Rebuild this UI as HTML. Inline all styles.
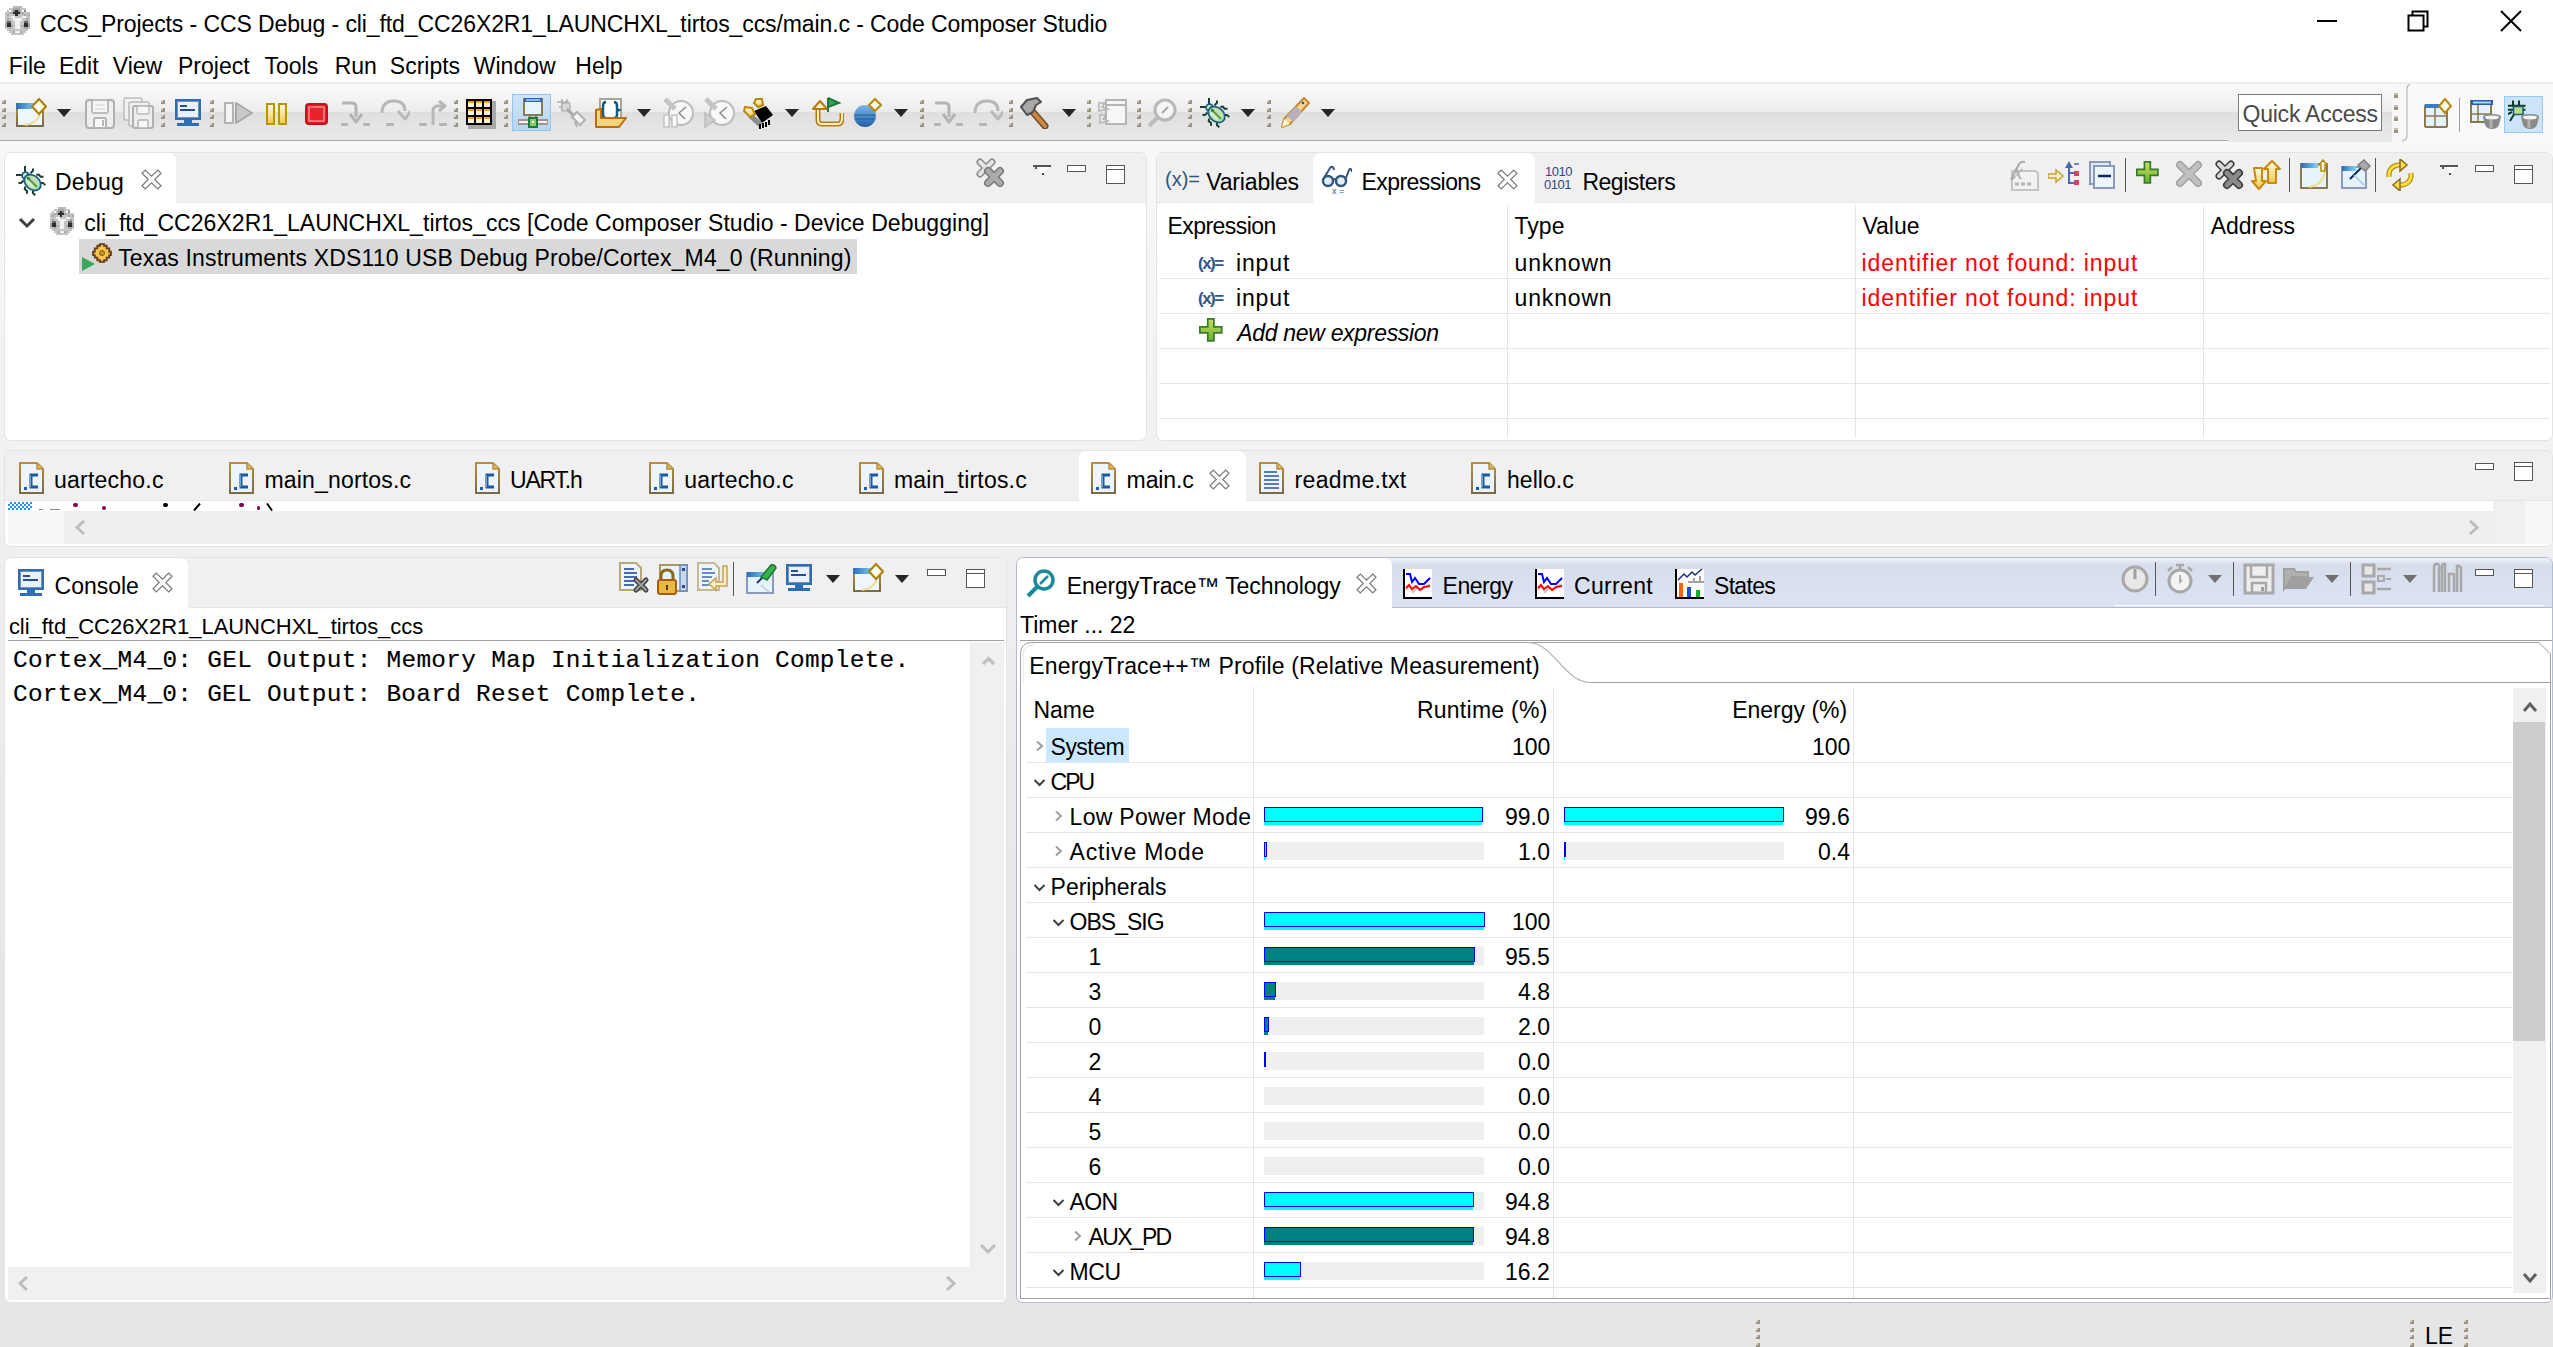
<!DOCTYPE html>
<html><head><meta charset="utf-8"><title>Code Composer Studio</title>
<style>
html,body{margin:0;padding:0;}
body{width:2553px;height:1347px;overflow:hidden;position:relative;background:linear-gradient(#f8f8f8 141px,#e6e6e6 1000px,#e6e6e6);font-family:'Liberation Sans',sans-serif;}
body div, body svg{position:absolute;}
.t{white-space:pre;}
</style></head><body>
<svg style="left:0;top:0" width="0" height="0"><defs>
<linearGradient id="gy" x1="0" y1="0" x2="0" y2="1"><stop offset="0" stop-color="#fffbe6"/><stop offset="1" stop-color="#f2c94c"/></linearGradient>
<linearGradient id="gbl" x1="0" y1="0" x2="0" y2="1"><stop offset="0" stop-color="#7fb6e6"/><stop offset="1" stop-color="#1f5fa8"/></linearGradient>
<linearGradient id="gtb" x1="0" y1="0" x2="1" y2="0"><stop offset="0" stop-color="#2a6fb8"/><stop offset="1" stop-color="#8cd0f5"/></linearGradient>
<linearGradient id="gfr" x1="0" y1="0" x2="0" y2="1"><stop offset="0" stop-color="#b8903c"/><stop offset="1" stop-color="#7a6a48"/></linearGradient>
<linearGradient id="ggr" x1="0" y1="0" x2="0" y2="1"><stop offset="0" stop-color="#c8e060"/><stop offset="1" stop-color="#6ab030"/></linearGradient>
<linearGradient id="gbug" x1="0" y1="0" x2="1" y2="1"><stop offset="0" stop-color="#d8ecd0"/><stop offset="1" stop-color="#5a9a5a"/></linearGradient>
</defs></svg>
<div style="left:0px;top:0px;width:2553px;height:82px;background:#ffffff;"></div>
<div class="t" style="left:40.00px;top:11px;font-family:'Liberation Sans',sans-serif;font-size:23px;line-height:26px;color:#000;letter-spacing:-0.098px;">CCS_Projects - CCS Debug - cli_ftd_CC26X2R1_LAUNCHXL_tirtos_ccs/main.c - Code Composer Studio</div>
<div class="t" style="left:8.80px;top:53px;font-family:'Liberation Sans',sans-serif;font-size:23px;line-height:26px;color:#000;">File</div>
<div class="t" style="left:58.90px;top:53px;font-family:'Liberation Sans',sans-serif;font-size:23px;line-height:26px;color:#000;">Edit</div>
<div class="t" style="left:112.80px;top:53px;font-family:'Liberation Sans',sans-serif;font-size:23px;line-height:26px;color:#000;">View</div>
<div class="t" style="left:178.00px;top:53px;font-family:'Liberation Sans',sans-serif;font-size:23px;line-height:26px;color:#000;">Project</div>
<div class="t" style="left:264.50px;top:53px;font-family:'Liberation Sans',sans-serif;font-size:23px;line-height:26px;color:#000;">Tools</div>
<div class="t" style="left:334.70px;top:53px;font-family:'Liberation Sans',sans-serif;font-size:23px;line-height:26px;color:#000;">Run</div>
<div class="t" style="left:389.80px;top:53px;font-family:'Liberation Sans',sans-serif;font-size:23px;line-height:26px;color:#000;">Scripts</div>
<div class="t" style="left:473.80px;top:53px;font-family:'Liberation Sans',sans-serif;font-size:23px;line-height:26px;color:#000;">Window</div>
<div class="t" style="left:575.30px;top:53px;font-family:'Liberation Sans',sans-serif;font-size:23px;line-height:26px;color:#000;">Help</div>
<div style="left:2317px;top:20px;width:20px;height:2px;background:#000;"></div>
<svg style="left:2406px;top:9px;" width="24" height="24" viewBox="0 0 24 24"><rect x="2.5" y="6.5" width="15" height="15" fill="none" stroke="#000" stroke-width="2"/><path d="M6.5 6.5V2.5H21.5V17.5H17.5" fill="none" stroke="#000" stroke-width="2"/></svg>
<svg style="left:2499px;top:9px;" width="24" height="24" viewBox="0 0 24 24"><path d="M2 2L22 22M22 2L2 22" stroke="#000" stroke-width="2"/></svg>
<div style="left:0px;top:82px;width:2553px;height:2px;background:#ededed;"></div>
<div style="left:0px;top:84px;width:2392px;height:28px;background:linear-gradient(#fbfbfb,#ececec);"></div>
<div style="left:0px;top:112px;width:2392px;height:28px;background:linear-gradient(#dfdfdf,#e9e9e9);"></div>
<div style="left:0px;top:140px;width:2228px;height:1px;background:#a8a8a8;"></div>
<div style="left:2228px;top:140px;width:164px;height:2px;background:#e9e9e9;"></div>
<div style="left:2392px;top:84px;width:161px;height:57px;background:#f7f7f7;"></div>
<div style="left:2408px;top:84px;width:145px;height:57px;background:#f9f9f9;"></div>
<svg style="left:2400px;top:84px;" width="12" height="58" viewBox="0 0 12 58"><path d="M10 0.5 Q7 1.5 7 5 V52 Q7 56 2 57" fill="none" stroke="#b8b8b8" stroke-width="1.2"/></svg>
<div style="left:2238px;top:94px;width:144px;height:37px;background:#ffffff;box-sizing:border-box;border:1px solid #7a7a7a;"></div>
<div class="t" style="left:2242.50px;top:101px;font-family:'Liberation Sans',sans-serif;font-size:23px;line-height:26px;color:#4a4a4a;letter-spacing:-0.227px;">Quick Access</div>
<div style="left:4px;top:152px;width:1141px;height:287px;border:1px solid #e3e3e3;border-radius:7px;background:#ffffff;overflow:hidden"><div style="left:0;top:0;width:1141px;height:49px;background:#f0f0f0"></div><div style="left:0;top:49px;width:1141px;height:1px;background:#e6e6e6"></div></div>
<div style="left:5px;top:153px;width:171px;height:50px;background:#ffffff;border-radius:7px 7px 0 0"></div>
<div style="left:1156px;top:152px;width:1395px;height:287px;border:1px solid #e3e3e3;border-radius:7px;background:#ffffff;overflow:hidden"><div style="left:0;top:0;width:1395px;height:49px;background:#f0f0f0"></div><div style="left:0;top:49px;width:1395px;height:1px;background:#e6e6e6"></div></div>
<div style="left:1313px;top:153px;width:222px;height:50px;background:#ffffff;border-radius:7px 7px 0 0"></div>
<div style="left:4px;top:450px;width:2547px;height:95px;border:1px solid #e3e3e3;border-radius:7px;background:#ffffff;overflow:hidden"><div style="left:0;top:0;width:2547px;height:49px;background:#f0f0f0"></div><div style="left:0;top:49px;width:2547px;height:1px;background:#e6e6e6"></div></div>
<div style="left:1079px;top:451px;width:167px;height:50px;background:#ffffff;border-radius:7px 7px 0 0"></div>
<div style="left:4px;top:557px;width:1001px;height:744px;border:1px solid #e3e3e3;border-radius:7px;background:#ffffff;overflow:hidden"><div style="left:0;top:0;width:1001px;height:49px;background:#f0f0f0"></div><div style="left:0;top:49px;width:1001px;height:1px;background:#e6e6e6"></div></div>
<div style="left:5px;top:558px;width:183px;height:50px;background:#ffffff;border-radius:7px 7px 0 0"></div>
<div style="left:1016px;top:557px;width:1535px;height:744px;border:1px solid #b2bbcf;border-radius:7px;background:#ffffff;overflow:hidden"><div style="left:0;top:0;width:1535px;height:49px;background:linear-gradient(#eef2f8 0px,#d7ddeb 7px,#dbe3f3 100%)"></div><div style="left:0;top:49px;width:1535px;height:1px;background:#b4bccf"></div></div>
<div style="left:1017px;top:558px;width:375px;height:50px;background:#ffffff;border-radius:7px 7px 0 0"></div>
<div style="left:2114px;top:605px;width:430px;height:1px;background:#ffffff;"></div>
<div class="t" style="left:55.00px;top:169px;font-family:'Liberation Sans',sans-serif;font-size:23px;line-height:26px;color:#000;letter-spacing:0.250px;">Debug</div>
<div style="left:79px;top:239px;width:778px;height:35px;background:#d9d9d9;"></div>
<div class="t" style="left:84.20px;top:210px;font-family:'Liberation Sans',sans-serif;font-size:23px;line-height:26px;color:#000;letter-spacing:0.049px;">cli_ftd_CC26X2R1_LAUNCHXL_tirtos_ccs [Code Composer Studio - Device Debugging]</div>
<div class="t" style="left:118.20px;top:245px;font-family:'Liberation Sans',sans-serif;font-size:23px;line-height:26px;color:#000;letter-spacing:0.144px;">Texas Instruments XDS110 USB Debug Probe/Cortex_M4_0 (Running)</div>
<div class="t" style="left:1206.30px;top:169px;font-family:'Liberation Sans',sans-serif;font-size:23px;line-height:26px;color:#000;letter-spacing:-0.175px;">Variables</div>
<div class="t" style="left:1361.60px;top:169px;font-family:'Liberation Sans',sans-serif;font-size:23px;line-height:26px;color:#000;letter-spacing:-0.580px;">Expressions</div>
<div class="t" style="left:1582.40px;top:169px;font-family:'Liberation Sans',sans-serif;font-size:23px;line-height:26px;color:#000;letter-spacing:-0.475px;">Registers</div>
<div style="left:1507px;top:205px;width:1px;height:233px;background:#e5e5e5;"></div>
<div style="left:1855px;top:205px;width:1px;height:233px;background:#e5e5e5;"></div>
<div style="left:2203px;top:205px;width:1px;height:233px;background:#e5e5e5;"></div>
<div style="left:1160px;top:278px;width:1390px;height:1px;background:#e5e5e5;"></div>
<div style="left:1160px;top:313px;width:1390px;height:1px;background:#e5e5e5;"></div>
<div style="left:1160px;top:348px;width:1390px;height:1px;background:#e5e5e5;"></div>
<div style="left:1160px;top:383px;width:1390px;height:1px;background:#e5e5e5;"></div>
<div style="left:1160px;top:418px;width:1390px;height:1px;background:#e5e5e5;"></div>
<div class="t" style="left:1167.60px;top:213px;font-family:'Liberation Sans',sans-serif;font-size:23px;line-height:26px;color:#000;letter-spacing:-0.567px;">Expression</div>
<div class="t" style="left:1514.60px;top:213px;font-family:'Liberation Sans',sans-serif;font-size:23px;line-height:26px;color:#000;">Type</div>
<div class="t" style="left:1862.40px;top:213px;font-family:'Liberation Sans',sans-serif;font-size:23px;line-height:26px;color:#000;">Value</div>
<div class="t" style="left:2210.70px;top:213px;font-family:'Liberation Sans',sans-serif;font-size:23px;line-height:26px;color:#000;">Address</div>
<div class="t" style="left:1236.00px;top:249.5px;font-family:'Liberation Sans',sans-serif;font-size:23px;line-height:26px;color:#000;letter-spacing:0.850px;">input</div>
<div class="t" style="left:1514.60px;top:249.5px;font-family:'Liberation Sans',sans-serif;font-size:23px;line-height:26px;color:#000;letter-spacing:0.833px;">unknown</div>
<div class="t" style="left:1861.60px;top:249.5px;font-family:'Liberation Sans',sans-serif;font-size:23px;line-height:26px;color:#ff0000;letter-spacing:0.919px;">identifier not found: input</div>
<div class="t" style="left:1236.00px;top:284.5px;font-family:'Liberation Sans',sans-serif;font-size:23px;line-height:26px;color:#000;letter-spacing:0.850px;">input</div>
<div class="t" style="left:1514.60px;top:284.5px;font-family:'Liberation Sans',sans-serif;font-size:23px;line-height:26px;color:#000;letter-spacing:0.833px;">unknown</div>
<div class="t" style="left:1861.60px;top:284.5px;font-family:'Liberation Sans',sans-serif;font-size:23px;line-height:26px;color:#ff0000;letter-spacing:0.919px;">identifier not found: input</div>
<div class="t" style="left:1237.20px;top:320px;font-family:'Liberation Sans',sans-serif;font-size:23px;line-height:26px;color:#000;font-style:italic;letter-spacing:-0.306px;">Add new expression</div>
<div class="t" style="left:54.00px;top:467px;font-family:'Liberation Sans',sans-serif;font-size:23px;line-height:26px;color:#000;letter-spacing:0.222px;">uartecho.c</div>
<div class="t" style="left:264.40px;top:467px;font-family:'Liberation Sans',sans-serif;font-size:23px;line-height:26px;color:#000;letter-spacing:0.183px;">main_nortos.c</div>
<div class="t" style="left:510.00px;top:467px;font-family:'Liberation Sans',sans-serif;font-size:23px;line-height:26px;color:#000;letter-spacing:-1.200px;">UART.h</div>
<div class="t" style="left:684.30px;top:467px;font-family:'Liberation Sans',sans-serif;font-size:23px;line-height:26px;color:#000;letter-spacing:0.189px;">uartecho.c</div>
<div class="t" style="left:894.00px;top:467px;font-family:'Liberation Sans',sans-serif;font-size:23px;line-height:26px;color:#000;letter-spacing:0.192px;">main_tirtos.c</div>
<div class="t" style="left:1126.60px;top:467px;font-family:'Liberation Sans',sans-serif;font-size:23px;line-height:26px;color:#000;letter-spacing:-0.120px;">main.c</div>
<div class="t" style="left:1294.60px;top:467px;font-family:'Liberation Sans',sans-serif;font-size:23px;line-height:26px;color:#000;letter-spacing:0.333px;">readme.txt</div>
<div class="t" style="left:1507.00px;top:467px;font-family:'Liberation Sans',sans-serif;font-size:23px;line-height:26px;color:#000;letter-spacing:0.050px;">hello.c</div>
<div style="left:5px;top:501px;width:2545px;height:10px;background:#ffffff;"></div>
<div style="left:8px;top:502px;width:24px;height:8px;background:repeating-conic-gradient(#1e90ff 0 25%,#ffffff 0 50%) 0 0/4px 4px;"></div>
<div style="left:64px;top:511px;width:2429px;height:33px;background:#efefef;"></div>
<div style="left:8px;top:511px;width:56px;height:33px;background:#f7f7f7;"></div>
<div style="left:2493px;top:501px;width:33px;height:43px;background:#f0f0f0;"></div>
<div style="left:2526px;top:501px;width:26px;height:43px;background:#f7f7f7;"></div>
<div style="left:73px;top:503px;width:5px;height:4px;background:#7f0055;border-radius:2px"></div>
<div style="left:102px;top:506px;width:4px;height:4px;background:#7f0055;border-radius:2px"></div>
<div style="left:163px;top:503px;width:5px;height:4px;background:#000;border-radius:2px"></div>
<div style="left:238.5px;top:503px;width:5px;height:4px;background:#7f0055;border-radius:2px"></div>
<div style="left:257px;top:506px;width:3px;height:4px;background:#7f0055;border-radius:2px"></div>
<svg style="left:192px;top:503px;" width="10" height="8" viewBox="0 0 10 8"><path d="M8 0.5L2 7.5" stroke="#000" stroke-width="2"/></svg>
<svg style="left:265px;top:503px;" width="10" height="8" viewBox="0 0 10 8"><path d="M2 0.5L7 7.5" stroke="#000" stroke-width="2"/></svg>
<div style="left:39px;top:509px;width:4px;height:1px;background:#888;"></div>
<div style="left:50px;top:509px;width:10px;height:1px;background:#888;"></div>
<svg style="left:74px;top:520px;" width="14" height="16" viewBox="0 0 14 16"><path d="M10 1L3 7.5L10 14" fill="none" stroke="#bdbdbd" stroke-width="3"/></svg>
<svg style="left:2467px;top:520px;" width="14" height="16" viewBox="0 0 14 16"><path d="M3 1L10 7.5L3 14" fill="none" stroke="#bdbdbd" stroke-width="3"/></svg>
<div class="t" style="left:54.60px;top:573px;font-family:'Liberation Sans',sans-serif;font-size:23px;line-height:26px;color:#000;letter-spacing:-0.033px;">Console</div>
<div class="t" style="left:8.90px;top:614px;font-family:'Liberation Sans',sans-serif;font-size:22px;line-height:25px;color:#000;letter-spacing:-0.040px;">cli_ftd_CC26X2R1_LAUNCHXL_tirtos_ccs</div>
<div style="left:8px;top:640px;width:996px;height:1px;background:#a0a0a0;"></div>
<div class="t" style="left:13.00px;top:647px;font-family:'Liberation Mono',monospace;font-size:24.4px;line-height:27px;color:#000;letter-spacing:0.305px;-webkit-text-stroke:0.15px #000;">Cortex_M4_0: GEL Output: Memory Map Initialization Complete.</div>
<div class="t" style="left:13.00px;top:681px;font-family:'Liberation Mono',monospace;font-size:24.4px;line-height:27px;color:#000;letter-spacing:0.300px;-webkit-text-stroke:0.15px #000;">Cortex_M4_0: GEL Output: Board Reset Complete.</div>
<div style="left:970px;top:642px;width:34px;height:625px;background:#f0f0f0;"></div>
<div style="left:8px;top:1267px;width:996px;height:33px;background:#f0f0f0;"></div>
<svg style="left:979px;top:653px;" width="18" height="14" viewBox="0 0 18 14"><path d="M4 11L9.5 5.5L15 11" fill="none" stroke="#c0c0c0" stroke-width="3.2"/></svg>
<svg style="left:979px;top:1242px;" width="18" height="14" viewBox="0 0 18 14"><path d="M2 3L9 10L16 3" fill="none" stroke="#bdbdbd" stroke-width="3"/></svg>
<svg style="left:17px;top:1276px;" width="14" height="16" viewBox="0 0 14 16"><path d="M10 1L3 7.5L10 14" fill="none" stroke="#bdbdbd" stroke-width="3"/></svg>
<svg style="left:944px;top:1276px;" width="14" height="16" viewBox="0 0 14 16"><path d="M3 1L10 7.5L3 14" fill="none" stroke="#bdbdbd" stroke-width="3"/></svg>
<div class="t" style="left:1066.80px;top:573px;font-family:'Liberation Sans',sans-serif;font-size:23px;line-height:26px;color:#000;letter-spacing:-0.105px;">EnergyTrace™ Technology</div>
<div class="t" style="left:1442.50px;top:573px;font-family:'Liberation Sans',sans-serif;font-size:23px;line-height:26px;color:#000;letter-spacing:-0.460px;">Energy</div>
<div class="t" style="left:1574.00px;top:573px;font-family:'Liberation Sans',sans-serif;font-size:23px;line-height:26px;color:#000;letter-spacing:0.333px;">Current</div>
<div class="t" style="left:1714.00px;top:573px;font-family:'Liberation Sans',sans-serif;font-size:23px;line-height:26px;color:#000;letter-spacing:-0.680px;">States</div>
<div class="t" style="left:1020.10px;top:612px;font-family:'Liberation Sans',sans-serif;font-size:23px;line-height:26px;color:#000;letter-spacing:-0.018px;">Timer ... 22</div>
<div style="left:1020px;top:640px;width:1532px;height:1px;background:#a0a0a0;"></div>
<svg style="left:1018px;top:640px" width="1535" height="662" viewBox="0 0 1535 662"><path d="M2.5 658.5 V14 Q2.5 2.5 14 2.5 H1521 L1532.5 14 V658.5 Z" fill="none" stroke="#a0a0a0" stroke-width="1"/><path d="M509.5 2.5 C536 2.5 546 42.5 572.4 42.5" fill="none" stroke="#b8b8b8" stroke-width="1.2"/><path d="M572 42.5 H1532.5" fill="none" stroke="#a0a0a0" stroke-width="1"/><path d="M5 43 V16 Q5 5 16 5" fill="none" stroke="#e4e4e4" stroke-width="1"/></svg>
<div class="t" style="left:1029.30px;top:653px;font-family:'Liberation Sans',sans-serif;font-size:23px;line-height:26px;color:#000;letter-spacing:0.145px;">EnergyTrace++™ Profile (Relative Measurement)</div>
<div style="left:1253px;top:688px;width:1px;height:610px;background:#e5e5e5;"></div>
<div style="left:1553px;top:688px;width:1px;height:610px;background:#e5e5e5;"></div>
<div style="left:1853px;top:688px;width:1px;height:610px;background:#e5e5e5;"></div>
<div style="left:1026px;top:762px;width:1486px;height:1px;background:#e5e5e5;"></div>
<div style="left:1026px;top:797px;width:1486px;height:1px;background:#e5e5e5;"></div>
<div style="left:1026px;top:832px;width:1486px;height:1px;background:#e5e5e5;"></div>
<div style="left:1026px;top:867px;width:1486px;height:1px;background:#e5e5e5;"></div>
<div style="left:1026px;top:902px;width:1486px;height:1px;background:#e5e5e5;"></div>
<div style="left:1026px;top:937px;width:1486px;height:1px;background:#e5e5e5;"></div>
<div style="left:1026px;top:972px;width:1486px;height:1px;background:#e5e5e5;"></div>
<div style="left:1026px;top:1007px;width:1486px;height:1px;background:#e5e5e5;"></div>
<div style="left:1026px;top:1042px;width:1486px;height:1px;background:#e5e5e5;"></div>
<div style="left:1026px;top:1077px;width:1486px;height:1px;background:#e5e5e5;"></div>
<div style="left:1026px;top:1112px;width:1486px;height:1px;background:#e5e5e5;"></div>
<div style="left:1026px;top:1147px;width:1486px;height:1px;background:#e5e5e5;"></div>
<div style="left:1026px;top:1182px;width:1486px;height:1px;background:#e5e5e5;"></div>
<div style="left:1026px;top:1217px;width:1486px;height:1px;background:#e5e5e5;"></div>
<div style="left:1026px;top:1252px;width:1486px;height:1px;background:#e5e5e5;"></div>
<div style="left:1026px;top:1287px;width:1486px;height:1px;background:#e5e5e5;"></div>
<div class="t" style="left:1033.40px;top:697px;font-family:'Liberation Sans',sans-serif;font-size:23px;line-height:26px;color:#000;">Name</div>
<div class="t" style="left:1416.90px;top:697px;font-family:'Liberation Sans',sans-serif;font-size:23px;line-height:26px;color:#000;letter-spacing:0.260px;">Runtime (%)</div>
<div class="t" style="left:1732.20px;top:697px;font-family:'Liberation Sans',sans-serif;font-size:23px;line-height:26px;color:#000;">Energy (%)</div>
<div style="left:2513px;top:688px;width:33px;height:605px;background:#f0f0f0;"></div>
<div style="left:2513px;top:722px;width:32px;height:319px;background:#cdcdcd;"></div>
<svg style="left:2522px;top:698px;" width="16" height="16" viewBox="0 0 16 16"><path d="M2 13L8 6L14 13" fill="none" stroke="#606060" stroke-width="3"/></svg>
<svg style="left:2522px;top:1270px;" width="16" height="16" viewBox="0 0 16 16"><path d="M2 4L8 11L14 4" fill="none" stroke="#606060" stroke-width="3"/></svg>
<div style="left:1046px;top:728px;width:83px;height:34px;background:#cce8ff;"></div>
<div class="t" style="left:1050.60px;top:734px;font-family:'Liberation Sans',sans-serif;font-size:23px;line-height:26px;color:#000;letter-spacing:-0.540px;">System</div>
<svg style="left:1034.6px;top:740px;" width="10" height="12" viewBox="0 0 10 12"><path d="M2 1.5L7 6L2 10.5" fill="none" stroke="#a0a0a0" stroke-width="2"/></svg>
<div class="t" style="left:1512.00px;top:734px;font-family:'Liberation Sans',sans-serif;font-size:23px;line-height:26px;color:#000;">100</div>
<div class="t" style="left:1812.00px;top:734px;font-family:'Liberation Sans',sans-serif;font-size:23px;line-height:26px;color:#000;">100</div>
<div class="t" style="left:1050.60px;top:769px;font-family:'Liberation Sans',sans-serif;font-size:23px;line-height:26px;color:#000;letter-spacing:-2.000px;">CPU</div>
<svg style="left:1032.6px;top:778px;" width="13" height="10" viewBox="0 0 13 10"><path d="M1.5 2L6.5 7L11.5 2" fill="none" stroke="#404040" stroke-width="2"/></svg>
<div class="t" style="left:1069.60px;top:804px;font-family:'Liberation Sans',sans-serif;font-size:23px;line-height:26px;color:#000;letter-spacing:0.285px;">Low Power Mode</div>
<svg style="left:1053.6px;top:810px;" width="10" height="12" viewBox="0 0 10 12"><path d="M2 1.5L7 6L2 10.5" fill="none" stroke="#a0a0a0" stroke-width="2"/></svg>
<div class="t" style="left:1505.00px;top:804px;font-family:'Liberation Sans',sans-serif;font-size:23px;line-height:26px;color:#000;">99.0</div>
<div class="t" style="left:1805.00px;top:804px;font-family:'Liberation Sans',sans-serif;font-size:23px;line-height:26px;color:#000;">99.6</div>
<div style="left:1264px;top:807px;width:220px;height:18px;background:#efefef;"></div>
<div style="left:1264px;top:807px;width:218px;height:18px;background:#00ffff;"></div>
<div style="left:1264px;top:807px;width:219px;height:15px;background:#00ffff;box-sizing:border-box;border:1px solid #0000ff;"></div>
<div style="left:1564px;top:807px;width:220px;height:18px;background:#efefef;"></div>
<div style="left:1564px;top:807px;width:219px;height:18px;background:#00ffff;"></div>
<div style="left:1564px;top:807px;width:220px;height:15px;background:#00ffff;box-sizing:border-box;border:1px solid #0000ff;"></div>
<div class="t" style="left:1069.60px;top:839px;font-family:'Liberation Sans',sans-serif;font-size:23px;line-height:26px;color:#000;letter-spacing:0.790px;">Active Mode</div>
<svg style="left:1053.6px;top:845px;" width="10" height="12" viewBox="0 0 10 12"><path d="M2 1.5L7 6L2 10.5" fill="none" stroke="#a0a0a0" stroke-width="2"/></svg>
<div class="t" style="left:1518.00px;top:839px;font-family:'Liberation Sans',sans-serif;font-size:23px;line-height:26px;color:#000;">1.0</div>
<div class="t" style="left:1818.00px;top:839px;font-family:'Liberation Sans',sans-serif;font-size:23px;line-height:26px;color:#000;">0.4</div>
<div style="left:1264px;top:842px;width:220px;height:18px;background:#efefef;"></div>
<div style="left:1264px;top:842px;width:2px;height:18px;background:#00ffff;"></div>
<div style="left:1264px;top:842px;width:3px;height:15px;background:#00ffff;box-sizing:border-box;border:1px solid #0000ff;"></div>
<div style="left:1564px;top:842px;width:220px;height:18px;background:#efefef;"></div>
<div style="left:1564px;top:842px;width:1px;height:18px;background:#00ffff;"></div>
<div style="left:1564px;top:842px;width:2px;height:15px;background:#00ffff;box-sizing:border-box;border:1px solid #0000ff;"></div>
<div class="t" style="left:1050.60px;top:874px;font-family:'Liberation Sans',sans-serif;font-size:23px;line-height:26px;color:#000;letter-spacing:-0.050px;">Peripherals</div>
<svg style="left:1032.6px;top:883px;" width="13" height="10" viewBox="0 0 13 10"><path d="M1.5 2L6.5 7L11.5 2" fill="none" stroke="#404040" stroke-width="2"/></svg>
<div class="t" style="left:1069.60px;top:909px;font-family:'Liberation Sans',sans-serif;font-size:23px;line-height:26px;color:#000;letter-spacing:-1.000px;">OBS_SIG</div>
<svg style="left:1051.6px;top:918px;" width="13" height="10" viewBox="0 0 13 10"><path d="M1.5 2L6.5 7L11.5 2" fill="none" stroke="#404040" stroke-width="2"/></svg>
<div class="t" style="left:1512.00px;top:909px;font-family:'Liberation Sans',sans-serif;font-size:23px;line-height:26px;color:#000;">100</div>
<div style="left:1264px;top:912px;width:220px;height:18px;background:#efefef;"></div>
<div style="left:1264px;top:912px;width:220px;height:18px;background:#00ffff;"></div>
<div style="left:1264px;top:912px;width:221px;height:15px;background:#00ffff;box-sizing:border-box;border:1px solid #0000ff;"></div>
<div class="t" style="left:1088.50px;top:944px;font-family:'Liberation Sans',sans-serif;font-size:23px;line-height:26px;color:#000;">1</div>
<div class="t" style="left:1505.00px;top:944px;font-family:'Liberation Sans',sans-serif;font-size:23px;line-height:26px;color:#000;">95.5</div>
<div style="left:1264px;top:947px;width:220px;height:18px;background:#efefef;"></div>
<div style="left:1264px;top:947px;width:210px;height:18px;background:#008080;"></div>
<div style="left:1264px;top:947px;width:211px;height:15px;background:#008080;box-sizing:border-box;border:1px solid #0000ff;"></div>
<div class="t" style="left:1088.50px;top:979px;font-family:'Liberation Sans',sans-serif;font-size:23px;line-height:26px;color:#000;">3</div>
<div class="t" style="left:1518.00px;top:979px;font-family:'Liberation Sans',sans-serif;font-size:23px;line-height:26px;color:#000;">4.8</div>
<div style="left:1264px;top:982px;width:220px;height:18px;background:#efefef;"></div>
<div style="left:1264px;top:982px;width:11px;height:18px;background:#008080;"></div>
<div style="left:1264px;top:982px;width:12px;height:15px;background:#008080;box-sizing:border-box;border:1px solid #0000ff;"></div>
<div class="t" style="left:1088.50px;top:1014px;font-family:'Liberation Sans',sans-serif;font-size:23px;line-height:26px;color:#000;">0</div>
<div class="t" style="left:1518.00px;top:1014px;font-family:'Liberation Sans',sans-serif;font-size:23px;line-height:26px;color:#000;">2.0</div>
<div style="left:1264px;top:1017px;width:220px;height:18px;background:#efefef;"></div>
<div style="left:1264px;top:1017px;width:4px;height:18px;background:#008080;"></div>
<div style="left:1264px;top:1017px;width:5px;height:15px;background:#008080;box-sizing:border-box;border:1px solid #0000ff;"></div>
<div class="t" style="left:1088.50px;top:1049px;font-family:'Liberation Sans',sans-serif;font-size:23px;line-height:26px;color:#000;">2</div>
<div class="t" style="left:1518.00px;top:1049px;font-family:'Liberation Sans',sans-serif;font-size:23px;line-height:26px;color:#000;">0.0</div>
<div style="left:1264px;top:1052px;width:220px;height:18px;background:#efefef;"></div>
<div style="left:1264px;top:1052px;width:1px;height:15px;background:#008080;box-sizing:border-box;border:1px solid #0000ff;"></div>
<div class="t" style="left:1088.50px;top:1084px;font-family:'Liberation Sans',sans-serif;font-size:23px;line-height:26px;color:#000;">4</div>
<div class="t" style="left:1518.00px;top:1084px;font-family:'Liberation Sans',sans-serif;font-size:23px;line-height:26px;color:#000;">0.0</div>
<div style="left:1264px;top:1087px;width:220px;height:18px;background:#efefef;"></div>
<div class="t" style="left:1088.50px;top:1119px;font-family:'Liberation Sans',sans-serif;font-size:23px;line-height:26px;color:#000;">5</div>
<div class="t" style="left:1518.00px;top:1119px;font-family:'Liberation Sans',sans-serif;font-size:23px;line-height:26px;color:#000;">0.0</div>
<div style="left:1264px;top:1122px;width:220px;height:18px;background:#efefef;"></div>
<div class="t" style="left:1088.50px;top:1154px;font-family:'Liberation Sans',sans-serif;font-size:23px;line-height:26px;color:#000;">6</div>
<div class="t" style="left:1518.00px;top:1154px;font-family:'Liberation Sans',sans-serif;font-size:23px;line-height:26px;color:#000;">0.0</div>
<div style="left:1264px;top:1157px;width:220px;height:18px;background:#efefef;"></div>
<div class="t" style="left:1069.60px;top:1189px;font-family:'Liberation Sans',sans-serif;font-size:23px;line-height:26px;color:#000;letter-spacing:-0.650px;">AON</div>
<svg style="left:1051.6px;top:1198px;" width="13" height="10" viewBox="0 0 13 10"><path d="M1.5 2L6.5 7L11.5 2" fill="none" stroke="#404040" stroke-width="2"/></svg>
<div class="t" style="left:1505.00px;top:1189px;font-family:'Liberation Sans',sans-serif;font-size:23px;line-height:26px;color:#000;">94.8</div>
<div style="left:1264px;top:1192px;width:220px;height:18px;background:#efefef;"></div>
<div style="left:1264px;top:1192px;width:209px;height:18px;background:#00ffff;"></div>
<div style="left:1264px;top:1192px;width:210px;height:15px;background:#00ffff;box-sizing:border-box;border:1px solid #0000ff;"></div>
<div class="t" style="left:1088.60px;top:1224px;font-family:'Liberation Sans',sans-serif;font-size:23px;line-height:26px;color:#000;letter-spacing:-1.700px;">AUX_PD</div>
<svg style="left:1072.6px;top:1230px;" width="10" height="12" viewBox="0 0 10 12"><path d="M2 1.5L7 6L2 10.5" fill="none" stroke="#a0a0a0" stroke-width="2"/></svg>
<div class="t" style="left:1505.00px;top:1224px;font-family:'Liberation Sans',sans-serif;font-size:23px;line-height:26px;color:#000;">94.8</div>
<div style="left:1264px;top:1227px;width:220px;height:18px;background:#efefef;"></div>
<div style="left:1264px;top:1227px;width:209px;height:18px;background:#008080;"></div>
<div style="left:1264px;top:1227px;width:210px;height:15px;background:#008080;box-sizing:border-box;border:1px solid #0000ff;"></div>
<div class="t" style="left:1069.60px;top:1259px;font-family:'Liberation Sans',sans-serif;font-size:23px;line-height:26px;color:#000;letter-spacing:-0.450px;">MCU</div>
<svg style="left:1051.6px;top:1268px;" width="13" height="10" viewBox="0 0 13 10"><path d="M1.5 2L6.5 7L11.5 2" fill="none" stroke="#404040" stroke-width="2"/></svg>
<div class="t" style="left:1505.00px;top:1259px;font-family:'Liberation Sans',sans-serif;font-size:23px;line-height:26px;color:#000;">16.2</div>
<div style="left:1264px;top:1262px;width:220px;height:18px;background:#efefef;"></div>
<div style="left:1264px;top:1262px;width:36px;height:18px;background:#00ffff;"></div>
<div style="left:1264px;top:1262px;width:37px;height:15px;background:#00ffff;box-sizing:border-box;border:1px solid #0000ff;"></div>
<div style="left:0px;top:1303px;width:2553px;height:44px;background:#e6e6e6;"></div>
<div class="t" style="left:2425.00px;top:1323px;font-family:'Liberation Sans',sans-serif;font-size:23px;line-height:26px;color:#000;">LE</div>
<svg style="left:1px;top:4px;" width="33" height="33" viewBox="0 0 32 32"><defs><filter id="cbl"><feGaussianBlur stdDeviation="0.7"/></filter></defs><g filter="url(#cbl)" shape-rendering="crispEdges"><rect x="12" y="2" width="2" height="2" fill="#b8b8b8"/><rect x="14" y="2" width="2" height="2" fill="#b8b8b8"/><rect x="16" y="2" width="2" height="2" fill="#b8b8b8"/><rect x="18" y="2" width="2" height="2" fill="#b8b8b8"/><rect x="8" y="4" width="2" height="2" fill="#c4c4c4"/><rect x="10" y="4" width="2" height="2" fill="#c4c4c4"/><rect x="12" y="4" width="2" height="2" fill="#a8a8a8"/><rect x="14" y="4" width="2" height="2" fill="#a8a8a8"/><rect x="16" y="4" width="2" height="2" fill="#a8a8a8"/><rect x="18" y="4" width="2" height="2" fill="#c4c4c4"/><rect x="20" y="4" width="2" height="2" fill="#c4c4c4"/><rect x="22" y="4" width="2" height="2" fill="#c4c4c4"/><rect x="6" y="6" width="2" height="2" fill="#c4c4c4"/><rect x="10" y="6" width="2" height="2" fill="#c4c4c4"/><rect x="12" y="6" width="2" height="2" fill="#8a8a8a"/><rect x="14" y="6" width="2" height="2" fill="#2e2e2e"/><rect x="16" y="6" width="2" height="2" fill="#8a8a8a"/><rect x="18" y="6" width="2" height="2" fill="#c4c4c4"/><rect x="22" y="6" width="2" height="2" fill="#8a8a8a"/><rect x="4" y="8" width="2" height="2" fill="#c4c4c4"/><rect x="6" y="8" width="2" height="2" fill="#c4c4c4"/><rect x="8" y="8" width="2" height="2" fill="#a8a8a8"/><rect x="10" y="8" width="2" height="2" fill="#a8a8a8"/><rect x="12" y="8" width="2" height="2" fill="#2e2e2e"/><rect x="14" y="8" width="2" height="2" fill="#2e2e2e"/><rect x="16" y="8" width="2" height="2" fill="#2e2e2e"/><rect x="18" y="8" width="2" height="2" fill="#a8a8a8"/><rect x="20" y="8" width="2" height="2" fill="#a8a8a8"/><rect x="22" y="8" width="2" height="2" fill="#c4c4c4"/><rect x="24" y="8" width="2" height="2" fill="#c4c4c4"/><rect x="26" y="8" width="2" height="2" fill="#c4c4c4"/><rect x="4" y="10" width="2" height="2" fill="#c4c4c4"/><rect x="6" y="10" width="2" height="2" fill="#a8a8a8"/><rect x="8" y="10" width="2" height="2" fill="#c4c4c4"/><rect x="10" y="10" width="2" height="2" fill="#c4c4c4"/><rect x="12" y="10" width="2" height="2" fill="#c4c4c4"/><rect x="14" y="10" width="2" height="2" fill="#2e2e2e"/><rect x="16" y="10" width="2" height="2" fill="#c4c4c4"/><rect x="18" y="10" width="2" height="2" fill="#c4c4c4"/><rect x="20" y="10" width="2" height="2" fill="#c4c4c4"/><rect x="22" y="10" width="2" height="2" fill="#a8a8a8"/><rect x="24" y="10" width="2" height="2" fill="#c4c4c4"/><rect x="26" y="10" width="2" height="2" fill="#a8a8a8"/><rect x="4" y="12" width="2" height="2" fill="#c4c4c4"/><rect x="6" y="12" width="2" height="2" fill="#c4c4c4"/><rect x="8" y="12" width="2" height="2" fill="#c4c4c4"/><rect x="10" y="12" width="2" height="2" fill="#f2f2f2"/><rect x="12" y="12" width="2" height="2" fill="#f2f2f2"/><rect x="14" y="12" width="2" height="2" fill="#c4c4c4"/><rect x="16" y="12" width="2" height="2" fill="#c4c4c4"/><rect x="18" y="12" width="2" height="2" fill="#c4c4c4"/><rect x="20" y="12" width="2" height="2" fill="#f2f2f2"/><rect x="22" y="12" width="2" height="2" fill="#f2f2f2"/><rect x="24" y="12" width="2" height="2" fill="#c4c4c4"/><rect x="26" y="12" width="2" height="2" fill="#c4c4c4"/><rect x="4" y="14" width="2" height="2" fill="#c4c4c4"/><rect x="6" y="14" width="2" height="2" fill="#a8a8a8"/><rect x="8" y="14" width="2" height="2" fill="#c4c4c4"/><rect x="10" y="14" width="2" height="2" fill="#c4c4c4"/><rect x="12" y="14" width="2" height="2" fill="#f2f2f2"/><rect x="14" y="14" width="2" height="2" fill="#f2f2f2"/><rect x="16" y="14" width="2" height="2" fill="#f2f2f2"/><rect x="18" y="14" width="2" height="2" fill="#f2f2f2"/><rect x="20" y="14" width="2" height="2" fill="#c4c4c4"/><rect x="22" y="14" width="2" height="2" fill="#c4c4c4"/><rect x="24" y="14" width="2" height="2" fill="#a8a8a8"/><rect x="26" y="14" width="2" height="2" fill="#c4c4c4"/><rect x="4" y="16" width="2" height="2" fill="#c4c4c4"/><rect x="6" y="16" width="2" height="2" fill="#6a6a6a"/><rect x="8" y="16" width="2" height="2" fill="#6a6a6a"/><rect x="10" y="16" width="2" height="2" fill="#c4c4c4"/><rect x="12" y="16" width="2" height="2" fill="#c4c4c4"/><rect x="14" y="16" width="2" height="2" fill="#f2f2f2"/><rect x="16" y="16" width="2" height="2" fill="#f2f2f2"/><rect x="18" y="16" width="2" height="2" fill="#c4c4c4"/><rect x="20" y="16" width="2" height="2" fill="#c4c4c4"/><rect x="22" y="16" width="2" height="2" fill="#6a6a6a"/><rect x="24" y="16" width="2" height="2" fill="#6a6a6a"/><rect x="26" y="16" width="2" height="2" fill="#c4c4c4"/><rect x="4" y="18" width="2" height="2" fill="#a8a8a8"/><rect x="6" y="18" width="2" height="2" fill="#2e2e2e"/><rect x="8" y="18" width="2" height="2" fill="#2e2e2e"/><rect x="10" y="18" width="2" height="2" fill="#c4c4c4"/><rect x="12" y="18" width="2" height="2" fill="#c4c4c4"/><rect x="14" y="18" width="2" height="2" fill="#f2f2f2"/><rect x="16" y="18" width="2" height="2" fill="#f2f2f2"/><rect x="18" y="18" width="2" height="2" fill="#c4c4c4"/><rect x="20" y="18" width="2" height="2" fill="#c4c4c4"/><rect x="22" y="18" width="2" height="2" fill="#2e2e2e"/><rect x="24" y="18" width="2" height="2" fill="#2e2e2e"/><rect x="26" y="18" width="2" height="2" fill="#a8a8a8"/><rect x="4" y="20" width="2" height="2" fill="#a8a8a8"/><rect x="6" y="20" width="2" height="2" fill="#2e2e2e"/><rect x="8" y="20" width="2" height="2" fill="#2e2e2e"/><rect x="10" y="20" width="2" height="2" fill="#a8a8a8"/><rect x="12" y="20" width="2" height="2" fill="#c4c4c4"/><rect x="14" y="20" width="2" height="2" fill="#f2f2f2"/><rect x="16" y="20" width="2" height="2" fill="#f2f2f2"/><rect x="18" y="20" width="2" height="2" fill="#c4c4c4"/><rect x="20" y="20" width="2" height="2" fill="#a8a8a8"/><rect x="22" y="20" width="2" height="2" fill="#2e2e2e"/><rect x="24" y="20" width="2" height="2" fill="#2e2e2e"/><rect x="26" y="20" width="2" height="2" fill="#a8a8a8"/><rect x="4" y="22" width="2" height="2" fill="#c4c4c4"/><rect x="6" y="22" width="2" height="2" fill="#c4c4c4"/><rect x="8" y="22" width="2" height="2" fill="#a8a8a8"/><rect x="10" y="22" width="2" height="2" fill="#c4c4c4"/><rect x="12" y="22" width="2" height="2" fill="#c4c4c4"/><rect x="14" y="22" width="2" height="2" fill="#f2f2f2"/><rect x="16" y="22" width="2" height="2" fill="#f2f2f2"/><rect x="18" y="22" width="2" height="2" fill="#c4c4c4"/><rect x="20" y="22" width="2" height="2" fill="#c4c4c4"/><rect x="22" y="22" width="2" height="2" fill="#a8a8a8"/><rect x="24" y="22" width="2" height="2" fill="#a8a8a8"/><rect x="26" y="22" width="2" height="2" fill="#c4c4c4"/><rect x="6" y="24" width="2" height="2" fill="#c4c4c4"/><rect x="8" y="24" width="2" height="2" fill="#c4c4c4"/><rect x="10" y="24" width="2" height="2" fill="#c4c4c4"/><rect x="12" y="24" width="2" height="2" fill="#c4c4c4"/><rect x="14" y="24" width="2" height="2" fill="#c4c4c4"/><rect x="16" y="24" width="2" height="2" fill="#c4c4c4"/><rect x="18" y="24" width="2" height="2" fill="#c4c4c4"/><rect x="20" y="24" width="2" height="2" fill="#c4c4c4"/><rect x="22" y="24" width="2" height="2" fill="#c4c4c4"/><rect x="24" y="24" width="2" height="2" fill="#c4c4c4"/><rect x="8" y="26" width="2" height="2" fill="#c4c4c4"/><rect x="10" y="26" width="2" height="2" fill="#c4c4c4"/><rect x="12" y="26" width="2" height="2" fill="#a8a8a8"/><rect x="14" y="26" width="2" height="2" fill="#f2f2f2"/><rect x="16" y="26" width="2" height="2" fill="#f2f2f2"/><rect x="18" y="26" width="2" height="2" fill="#a8a8a8"/><rect x="20" y="26" width="2" height="2" fill="#c4c4c4"/><rect x="22" y="26" width="2" height="2" fill="#c4c4c4"/><rect x="10" y="28" width="2" height="2" fill="#c4c4c4"/><rect x="12" y="28" width="2" height="2" fill="#c4c4c4"/><rect x="14" y="28" width="2" height="2" fill="#c4c4c4"/><rect x="16" y="28" width="2" height="2" fill="#c4c4c4"/><rect x="18" y="28" width="2" height="2" fill="#c4c4c4"/><rect x="20" y="28" width="2" height="2" fill="#c4c4c4"/></g></svg>
<svg style="left:2px;top:100px;" width="4" height="28" viewBox="0 0 4 28"><rect x="0" y="0" width="4" height="4" fill="#9a9282"/><rect x="0" y="0" width="2" height="2" fill="#d8d2c4"/><rect x="0" y="8" width="4" height="4" fill="#9a9282"/><rect x="0" y="8" width="2" height="2" fill="#d8d2c4"/><rect x="0" y="15" width="4" height="4" fill="#9a9282"/><rect x="0" y="15" width="2" height="2" fill="#d8d2c4"/><rect x="0" y="23" width="4" height="4" fill="#9a9282"/><rect x="0" y="23" width="2" height="2" fill="#d8d2c4"/></svg>
<svg style="left:161px;top:100px;" width="4" height="28" viewBox="0 0 4 28"><rect x="0" y="0" width="4" height="4" fill="#9a9282"/><rect x="0" y="0" width="2" height="2" fill="#d8d2c4"/><rect x="0" y="8" width="4" height="4" fill="#9a9282"/><rect x="0" y="8" width="2" height="2" fill="#d8d2c4"/><rect x="0" y="15" width="4" height="4" fill="#9a9282"/><rect x="0" y="15" width="2" height="2" fill="#d8d2c4"/><rect x="0" y="23" width="4" height="4" fill="#9a9282"/><rect x="0" y="23" width="2" height="2" fill="#d8d2c4"/></svg>
<svg style="left:210px;top:100px;" width="4" height="28" viewBox="0 0 4 28"><rect x="0" y="0" width="4" height="4" fill="#9a9282"/><rect x="0" y="0" width="2" height="2" fill="#d8d2c4"/><rect x="0" y="8" width="4" height="4" fill="#9a9282"/><rect x="0" y="8" width="2" height="2" fill="#d8d2c4"/><rect x="0" y="15" width="4" height="4" fill="#9a9282"/><rect x="0" y="15" width="2" height="2" fill="#d8d2c4"/><rect x="0" y="23" width="4" height="4" fill="#9a9282"/><rect x="0" y="23" width="2" height="2" fill="#d8d2c4"/></svg>
<svg style="left:454px;top:100px;" width="4" height="28" viewBox="0 0 4 28"><rect x="0" y="0" width="4" height="4" fill="#9a9282"/><rect x="0" y="0" width="2" height="2" fill="#d8d2c4"/><rect x="0" y="8" width="4" height="4" fill="#9a9282"/><rect x="0" y="8" width="2" height="2" fill="#d8d2c4"/><rect x="0" y="15" width="4" height="4" fill="#9a9282"/><rect x="0" y="15" width="2" height="2" fill="#d8d2c4"/><rect x="0" y="23" width="4" height="4" fill="#9a9282"/><rect x="0" y="23" width="2" height="2" fill="#d8d2c4"/></svg>
<svg style="left:504px;top:100px;" width="4" height="28" viewBox="0 0 4 28"><rect x="0" y="0" width="4" height="4" fill="#9a9282"/><rect x="0" y="0" width="2" height="2" fill="#d8d2c4"/><rect x="0" y="8" width="4" height="4" fill="#9a9282"/><rect x="0" y="8" width="2" height="2" fill="#d8d2c4"/><rect x="0" y="15" width="4" height="4" fill="#9a9282"/><rect x="0" y="15" width="2" height="2" fill="#d8d2c4"/><rect x="0" y="23" width="4" height="4" fill="#9a9282"/><rect x="0" y="23" width="2" height="2" fill="#d8d2c4"/></svg>
<svg style="left:920px;top:100px;" width="4" height="28" viewBox="0 0 4 28"><rect x="0" y="0" width="4" height="4" fill="#9a9282"/><rect x="0" y="0" width="2" height="2" fill="#d8d2c4"/><rect x="0" y="8" width="4" height="4" fill="#9a9282"/><rect x="0" y="8" width="2" height="2" fill="#d8d2c4"/><rect x="0" y="15" width="4" height="4" fill="#9a9282"/><rect x="0" y="15" width="2" height="2" fill="#d8d2c4"/><rect x="0" y="23" width="4" height="4" fill="#9a9282"/><rect x="0" y="23" width="2" height="2" fill="#d8d2c4"/></svg>
<svg style="left:1009px;top:100px;" width="4" height="28" viewBox="0 0 4 28"><rect x="0" y="0" width="4" height="4" fill="#9a9282"/><rect x="0" y="0" width="2" height="2" fill="#d8d2c4"/><rect x="0" y="8" width="4" height="4" fill="#9a9282"/><rect x="0" y="8" width="2" height="2" fill="#d8d2c4"/><rect x="0" y="15" width="4" height="4" fill="#9a9282"/><rect x="0" y="15" width="2" height="2" fill="#d8d2c4"/><rect x="0" y="23" width="4" height="4" fill="#9a9282"/><rect x="0" y="23" width="2" height="2" fill="#d8d2c4"/></svg>
<svg style="left:1087px;top:100px;" width="4" height="28" viewBox="0 0 4 28"><rect x="0" y="0" width="4" height="4" fill="#9a9282"/><rect x="0" y="0" width="2" height="2" fill="#d8d2c4"/><rect x="0" y="8" width="4" height="4" fill="#9a9282"/><rect x="0" y="8" width="2" height="2" fill="#d8d2c4"/><rect x="0" y="15" width="4" height="4" fill="#9a9282"/><rect x="0" y="15" width="2" height="2" fill="#d8d2c4"/><rect x="0" y="23" width="4" height="4" fill="#9a9282"/><rect x="0" y="23" width="2" height="2" fill="#d8d2c4"/></svg>
<svg style="left:1137px;top:100px;" width="4" height="28" viewBox="0 0 4 28"><rect x="0" y="0" width="4" height="4" fill="#9a9282"/><rect x="0" y="0" width="2" height="2" fill="#d8d2c4"/><rect x="0" y="8" width="4" height="4" fill="#9a9282"/><rect x="0" y="8" width="2" height="2" fill="#d8d2c4"/><rect x="0" y="15" width="4" height="4" fill="#9a9282"/><rect x="0" y="15" width="2" height="2" fill="#d8d2c4"/><rect x="0" y="23" width="4" height="4" fill="#9a9282"/><rect x="0" y="23" width="2" height="2" fill="#d8d2c4"/></svg>
<svg style="left:1188px;top:100px;" width="4" height="28" viewBox="0 0 4 28"><rect x="0" y="0" width="4" height="4" fill="#9a9282"/><rect x="0" y="0" width="2" height="2" fill="#d8d2c4"/><rect x="0" y="8" width="4" height="4" fill="#9a9282"/><rect x="0" y="8" width="2" height="2" fill="#d8d2c4"/><rect x="0" y="15" width="4" height="4" fill="#9a9282"/><rect x="0" y="15" width="2" height="2" fill="#d8d2c4"/><rect x="0" y="23" width="4" height="4" fill="#9a9282"/><rect x="0" y="23" width="2" height="2" fill="#d8d2c4"/></svg>
<svg style="left:1267px;top:100px;" width="4" height="28" viewBox="0 0 4 28"><rect x="0" y="0" width="4" height="4" fill="#9a9282"/><rect x="0" y="0" width="2" height="2" fill="#d8d2c4"/><rect x="0" y="8" width="4" height="4" fill="#9a9282"/><rect x="0" y="8" width="2" height="2" fill="#d8d2c4"/><rect x="0" y="15" width="4" height="4" fill="#9a9282"/><rect x="0" y="15" width="2" height="2" fill="#d8d2c4"/><rect x="0" y="23" width="4" height="4" fill="#9a9282"/><rect x="0" y="23" width="2" height="2" fill="#d8d2c4"/></svg>
<svg style="left:2394px;top:93px;" width="4" height="40" viewBox="0 0 4 40"><rect x="0" y="0" width="4" height="5" fill="#9a9282"/><rect x="0" y="0" width="4" height="2" fill="#c4beb0"/><rect x="0" y="12" width="4" height="5" fill="#9a9282"/><rect x="0" y="12" width="4" height="2" fill="#c4beb0"/><rect x="0" y="23" width="4" height="5" fill="#9a9282"/><rect x="0" y="23" width="4" height="2" fill="#c4beb0"/><rect x="0" y="35" width="4" height="5" fill="#9a9282"/><rect x="0" y="35" width="4" height="2" fill="#c4beb0"/></svg>
<svg style="left:15px;top:97px;" width="32" height="32" viewBox="0 0 32 32"><rect x="2" y="7" width="26" height="22" fill="#eef7fd" stroke="url(#gfr)" stroke-width="2"/><rect x="1" y="6" width="21" height="6" fill="url(#gtb)"/><path d="M10 28 Q24 26 25 14" fill="none" stroke="#f4dc8c" stroke-width="2"/><path d="M24 2 L31 9.5 L24 17 L17 9.5Z" fill="#fff4cc" stroke="#a8820e" stroke-width="2"/><path d="M24 5.5V13.5M20 9.5H28" stroke="#ffffff" stroke-width="2"/></svg>
<svg style="left:57px;top:109px;" width="14" height="8" viewBox="0 0 14 8"><path d="M0 0H14L7 8Z" fill="#262626"/></svg>
<svg style="left:84px;top:97px;" width="32" height="32" viewBox="0 0 32 32"><rect x="2" y="3" width="28" height="28" rx="3" fill="#eeeeee" stroke="#b0b0b0" stroke-width="2"/><rect x="8" y="3" width="16" height="13" rx="2" fill="#f6f6f6" stroke="#bcbcbc" stroke-width="2"/><path d="M11 8H21M11 12H21" stroke="#dadada" stroke-width="1.5"/><rect x="10" y="21" width="12" height="10" rx="1.5" fill="#f8f8f8" stroke="#b4b4b4" stroke-width="2"/><rect x="18" y="23" width="2" height="6" fill="#b8b8b8"/></svg>
<svg style="left:123px;top:97px;" width="32" height="32" viewBox="0 0 32 32"><rect x="1" y="1" width="18" height="22" rx="2" fill="#f2f2f2" stroke="#bcbcbc" stroke-width="1.5"/><rect x="6" y="5" width="20" height="24" rx="2" fill="#f0f0f0" stroke="#b8b8b8" stroke-width="1.5"/><rect x="10" y="9" width="20" height="22" rx="2" fill="#eeeeee" stroke="#b0b0b0" stroke-width="2"/><rect x="14" y="9" width="12" height="8" rx="1.5" fill="#f6f6f6" stroke="#bcbcbc" stroke-width="1.5"/><rect x="15" y="23" width="10" height="8" rx="1" fill="#f8f8f8" stroke="#b4b4b4" stroke-width="1.5"/></svg>
<svg style="left:172px;top:97px;" width="32" height="32" viewBox="0 0 32 32"><rect x="3" y="2" width="26" height="21" fill="#2f6db5"/><rect x="5" y="4" width="22" height="17" fill="#7a8fae"/><rect x="6" y="5" width="20" height="15" fill="#e6f3fc"/><path d="M8 9H15M8 13H23" stroke="#2a4d8f" stroke-width="2"/><rect x="12" y="23" width="8" height="3" fill="#2f6db5"/><rect x="5" y="26" width="22" height="3" fill="#2f6db5"/></svg>
<svg style="left:222px;top:97px;" width="32" height="32" viewBox="0 0 32 32"><rect x="3" y="6" width="8" height="20" fill="#f4f4f4" stroke="#b4b4b4" stroke-width="2"/><path d="M14 6 L30 16 L14 26Z" fill="#c8c8c8" stroke="#a8a8a8" stroke-width="2" stroke-linejoin="round"/></svg>
<svg style="left:261px;top:97px;" width="32" height="32" viewBox="0 0 32 32"><rect x="6" y="7" width="7" height="20" fill="url(#gy)" stroke="#b8940c" stroke-width="2"/><rect x="18" y="7" width="7" height="20" fill="url(#gy)" stroke="#b8940c" stroke-width="2"/></svg>
<svg style="left:300px;top:97px;" width="32" height="32" viewBox="0 0 32 32"><rect x="6" y="7" width="21" height="20" rx="3" fill="#e8232c" stroke="#c4101a" stroke-width="2"/><rect x="9" y="10" width="15" height="14" fill="none" stroke="#f28a8e" stroke-width="1.5"/></svg>
<svg style="left:339px;top:97px;" width="32" height="32" viewBox="0 0 32 32"><path d="M3 6H13 Q17 6 17 10V20" fill="none" stroke="#b4b4b4" stroke-width="3"/><path d="M11 17 L17 25 L23 17" fill="none" stroke="#b4b4b4" stroke-width="3" stroke-linejoin="round"/><rect x="2" y="26" width="7" height="3" rx="1" fill="#b4b4b4"/><rect x="24" y="26" width="7" height="3" rx="1" fill="#b4b4b4"/></svg>
<svg style="left:378px;top:97px;" width="32" height="32" viewBox="0 0 32 32"><path d="M4 16 Q4 4 16 4 Q27 4 27 14" fill="none" stroke="#b8b8b8" stroke-width="3"/><path d="M20 14 L27 22 L33 14" fill="none" stroke="#b8b8b8" stroke-width="3" stroke-linejoin="round"/><rect x="8" y="26" width="8" height="3" rx="1" fill="#b4b4b4"/></svg>
<svg style="left:417px;top:97px;" width="32" height="32" viewBox="0 0 32 32"><path d="M16 28V14 Q16 9 21 9H26" fill="none" stroke="#b8b8b8" stroke-width="3"/><path d="M22 4 L28 9 L22 14" fill="none" stroke="#b8b8b8" stroke-width="3" stroke-linejoin="round"/><rect x="2" y="26" width="8" height="3" rx="1" fill="#b4b4b4"/><rect x="22" y="26" width="8" height="3" rx="1" fill="#b4b4b4"/></svg>
<svg style="left:464px;top:97px;" width="32" height="32" viewBox="0 0 32 32"><rect x="4" y="4" width="28" height="28" fill="#a8a8a8"/><rect x="2" y="2" width="26" height="26" fill="#000"/><rect x="4" y="4" width="6" height="6" fill="#fff2d8"/><rect x="4" y="4" width="6" height="2" fill="#f0a020"/><rect x="12" y="4" width="6" height="6" fill="#fff2d8"/><rect x="12" y="4" width="6" height="2" fill="#f0a020"/><rect x="20" y="4" width="6" height="6" fill="#fff2d8"/><rect x="20" y="4" width="6" height="2" fill="#f0a020"/><rect x="4" y="12" width="6" height="6" fill="#fff2d8"/><rect x="4" y="12" width="6" height="2" fill="#f0a020"/><rect x="12" y="12" width="6" height="6" fill="#fff2d8"/><rect x="12" y="12" width="6" height="2" fill="#f0a020"/><rect x="20" y="12" width="6" height="6" fill="#fff2d8"/><rect x="20" y="12" width="6" height="2" fill="#f0a020"/><rect x="4" y="20" width="6" height="6" fill="#fff2d8"/><rect x="4" y="20" width="6" height="2" fill="#f0a020"/><rect x="12" y="20" width="6" height="6" fill="#fff2d8"/><rect x="12" y="20" width="6" height="2" fill="#f0a020"/><rect x="20" y="20" width="6" height="6" fill="#fff2d8"/><rect x="20" y="20" width="6" height="2" fill="#f0a020"/></svg>
<div style="left:512px;top:94px;width:39px;height:37px;background:linear-gradient(#cfe5f8,#b9d5ee);box-sizing:border-box;border:1px solid #90c6f5;"></div>
<svg style="left:516px;top:97px;" width="32" height="32" viewBox="0 0 32 32"><rect x="8" y="2" width="18" height="16" fill="#e4f4fc" stroke="#8a7a50" stroke-width="2"/><rect x="8" y="1" width="18" height="4" fill="#3a5ea8"/><rect x="10" y="2" width="14" height="2" fill="#7ec0ee"/><rect x="13" y="17" width="2" height="6" fill="#8a7070"/><rect x="19" y="17" width="2" height="6" fill="#8a7070"/><rect x="2" y="22" width="30" height="6" fill="#a89090"/><rect x="3" y="24" width="28" height="2" fill="#f4f4f4"/><rect x="12" y="20" width="10" height="11" fill="#1e7a3a"/><rect x="14" y="22" width="6" height="7" fill="#8cc870"/><rect x="16" y="24" width="2" height="2" fill="#f8f8c0"/></svg>
<svg style="left:555px;top:97px;" width="32" height="32" viewBox="0 0 32 32"><path d="M2 5H14M4 10H16M7 2V14M12 2V13" stroke="#b0b0b0" stroke-width="1.5"/><rect x="7" y="6" width="8" height="8" fill="#d8d8d8" stroke="#a8a8a8"/><path d="M12 12 L22 22" stroke="#a8a8a8" stroke-width="3"/><path d="M17 20 L22 15 L30 23 L25 28Z" fill="#f4f4f4" stroke="#b0b0b0" stroke-width="2"/><path d="M20 25 L22 30" stroke="#b0b0b0" stroke-width="2"/></svg>
<svg style="left:595px;top:97px;" width="32" height="32" viewBox="0 0 32 32"><rect x="5" y="2" width="21" height="22" fill="#ffffff" stroke="#a8a89a" stroke-width="2"/><path d="M11 5 Q8 5 8 9 V12 L6 13 L8 14 V18 Q8 21 11 21" fill="none" stroke="#0e5a78" stroke-width="2.5"/><path d="M19 5 Q22 5 22 9 V12 L24 13 L22 14 V18 Q22 21 19 21" fill="none" stroke="#0e5a78" stroke-width="2.5"/><path d="M1 13 V30 H24 L31 21 H6 V12Z" fill="#f4d47c" stroke="#b8700c" stroke-width="2" stroke-linejoin="round"/></svg>
<svg style="left:637px;top:109px;" width="14" height="8" viewBox="0 0 14 8"><path d="M0 0H14L7 8Z" fill="#262626"/></svg>
<svg style="left:662px;top:97px;" width="32" height="32" viewBox="0 0 32 32"><circle cx="19" cy="16" r="12" fill="#f8f8f8" stroke="#bcbcbc" stroke-width="2"/><path d="M24 10 L17 16 L23 22" fill="none" stroke="#8c8c8c" stroke-width="1.5"/><path d="M3 2 L13 12" stroke="#c4c4c4" stroke-width="5"/><rect x="2" y="18" width="5" height="12" fill="#f8f8f8" stroke="#c4c4c4" stroke-width="1.5"/><rect x="10" y="18" width="5" height="12" fill="#f8f8f8" stroke="#c4c4c4" stroke-width="1.5"/></svg>
<svg style="left:703px;top:97px;" width="32" height="32" viewBox="0 0 32 32"><circle cx="19" cy="16" r="12" fill="#f8f8f8" stroke="#bcbcbc" stroke-width="2"/><path d="M24 10 L17 16 L23 22" fill="none" stroke="#8c8c8c" stroke-width="1.5"/><path d="M3 2 L13 12" stroke="#c4c4c4" stroke-width="5"/><path d="M2 16 L12 23 L2 30Z" fill="#d0d0d0" stroke="#bcbcbc" stroke-width="1.5"/></svg>
<svg style="left:742px;top:97px;" width="32" height="32" viewBox="0 0 32 32"><path d="M12 14 L24 9 L31 18 L20 26Z" fill="#000"/><path d="M10 17 L21 26 L17 30 L7 21Z" fill="#8c8c8c"/><path d="M18 27V32M21 26V31M24 25V30M27 23V28" stroke="#000" stroke-width="2"/><path d="M14 2 L20 2 L21 8 L16 10 L12 6Z" fill="url(#gy)" stroke="#b8860b" stroke-width="2"/><path d="M3 10 L10 11 L13 17 L8 20 L2 14Z" fill="url(#gy)" stroke="#b8860b" stroke-width="2"/></svg>
<svg style="left:785px;top:109px;" width="14" height="8" viewBox="0 0 14 8"><path d="M0 0H14L7 8Z" fill="#262626"/></svg>
<svg style="left:812px;top:97px;" width="32" height="32" viewBox="0 0 32 32"><path d="M6 8V23 Q6 27 10 27 H26 Q30 27 30 21 V16" fill="none" stroke="#b87a10" stroke-width="5" stroke-linejoin="round"/><path d="M6 8V23 Q6 27 10 27 H26 Q30 27 30 21 V16" fill="none" stroke="#fff0c0" stroke-width="2"/><path d="M1 12 L8 4 L15 12Z" fill="#fff0c0" stroke="#b87a10" stroke-width="2" stroke-linejoin="round"/><path d="M16 1 V15 M16 1 L27 6 L16 10" fill="#3aa060" stroke="#1a7a3a" stroke-width="2"/></svg>
<svg style="left:852px;top:97px;" width="32" height="32" viewBox="0 0 32 32"><circle cx="13" cy="19" r="11" fill="url(#gbl)"/><path d="M3 18H23M3 22H23" stroke="#1a5aa0" stroke-width="1.5" opacity="0.6"/><path d="M23 2 L29 8 L23 14 L17 8Z" fill="#fff4cc" stroke="#b8860b" stroke-width="2"/><path d="M23 4.5V11.5M19.5 8H26.5" stroke="#fff" stroke-width="1.5"/></svg>
<svg style="left:894px;top:109px;" width="14" height="8" viewBox="0 0 14 8"><path d="M0 0H14L7 8Z" fill="#262626"/></svg>
<svg style="left:932px;top:97px;" width="32" height="32" viewBox="0 0 32 32"><path d="M3 6H13 Q17 6 17 10V20" fill="none" stroke="#b4b4b4" stroke-width="3"/><path d="M11 17 L17 25 L23 17" fill="none" stroke="#b4b4b4" stroke-width="3" stroke-linejoin="round"/><rect x="2" y="26" width="7" height="3" rx="1" fill="#b4b4b4"/><rect x="24" y="26" width="7" height="3" rx="1" fill="#b4b4b4"/></svg>
<svg style="left:971px;top:97px;" width="32" height="32" viewBox="0 0 32 32"><path d="M4 16 Q4 4 16 4 Q27 4 27 14" fill="none" stroke="#b8b8b8" stroke-width="3"/><path d="M20 14 L27 22 L33 14" fill="none" stroke="#b8b8b8" stroke-width="3" stroke-linejoin="round"/><rect x="8" y="26" width="8" height="3" rx="1" fill="#b4b4b4"/></svg>
<svg style="left:1019px;top:97px;" width="32" height="32" viewBox="0 0 32 32"><path d="M13 14 L26 29" stroke="#7a4a1a" stroke-width="7" stroke-linecap="round"/><path d="M13 14 L26 29" stroke="#c88a4a" stroke-width="4" stroke-linecap="round"/><path d="M2 10 L8 3 L18 1 L22 5 L17 8 L14 15 L8 18Z" fill="#a8a8a8" stroke="#505050" stroke-width="2" stroke-linejoin="round"/></svg>
<svg style="left:1062px;top:109px;" width="14" height="8" viewBox="0 0 14 8"><path d="M0 0H14L7 8Z" fill="#262626"/></svg>
<svg style="left:1096px;top:97px;" width="32" height="32" viewBox="0 0 32 32"><rect x="10" y="3" width="20" height="24" fill="#f6f6f6" stroke="#b4b4b4" stroke-width="2"/><path d="M10 8H30" stroke="#b4b4b4" stroke-width="2"/><path d="M3 6 L9 6 L6 10 L12 12 L3 14Z M4 18 L10 18 L7 22 L12 24 L4 26Z" fill="#f0f0f0" stroke="#b4b4b4" stroke-width="1.5"/></svg>
<svg style="left:1146px;top:97px;" width="32" height="32" viewBox="0 0 32 32"><circle cx="19" cy="13" r="10" fill="#f4f4f4" stroke="#b8b8b8" stroke-width="3"/><path d="M11 21 L3 29" stroke="#bcbcbc" stroke-width="4"/><path d="M16 16 L22 10" stroke="#a8a8a8" stroke-width="2"/></svg>
<svg style="left:1199px;top:97px;" width="32" height="32" viewBox="0 0 32 32"><path d="M10 1V7 M1 10H7 M18 3.5V5.7L15.6 8.3 M21.3 9.7H24.1L25.5 11.7H28.5 M3.5 17.9H6L8.6 15.6 M24.9 17.9H28L30.3 20.1 M10.3 21.5L9.7 24.1L12 26V28.8 M17.9 25.2V28L20.3 30.2" fill="none" stroke="#1b3d33" stroke-width="2"/><circle cx="10.5" cy="10.5" r="3.4" fill="#d8eed0" stroke="#1a5f80" stroke-width="1.8"/><ellipse cx="17.5" cy="17.5" rx="9.3" ry="6.8" transform="rotate(42 17.5 17.5)" fill="#bfe0b0" stroke="#1a5f80" stroke-width="1.8"/><path d="M13 13 L22 22" stroke="#5a9a4a" stroke-width="2"/><path d="M12 16 L18 22" stroke="#e8f4e4" stroke-width="2" opacity="0.8"/><rect x="12" y="12" width="2.5" height="2.5" fill="#2a7a2a"/></svg>
<svg style="left:1241px;top:109px;" width="14" height="8" viewBox="0 0 14 8"><path d="M0 0H14L7 8Z" fill="#262626"/></svg>
<svg style="left:1278px;top:97px;" width="32" height="32" viewBox="0 0 32 32"><path d="M26 1 L31 6 L12 27 L4 30 L6 22Z" fill="#f4d490" stroke="#c88a30" stroke-width="2" stroke-linejoin="round"/><path d="M9 19 L15 25 L24 15 L18 9Z" fill="#b8b0c0"/><path d="M4 30 L6 22 L12 27Z" fill="#fff8d0"/><circle cx="25" cy="6" r="1.2" fill="#2040c0"/></svg>
<svg style="left:1321px;top:109px;" width="14" height="8" viewBox="0 0 14 8"><path d="M0 0H14L7 8Z" fill="#262626"/></svg>
<svg style="left:2421px;top:98px;" width="32" height="32" viewBox="0 0 32 32"><rect x="4" y="7" width="22" height="22" rx="1" fill="#e6f2fb" stroke="#8a7a50" stroke-width="2"/><rect x="4" y="6" width="17" height="4" fill="#3a7ac8"/><path d="M4 18H26M14 10V29" stroke="#8a7a50" stroke-width="1.5"/><path d="M24 1 L30 8 L24 15 L18 8Z" fill="#fff4cc" stroke="#b8860b" stroke-width="2"/><path d="M24 4V12M20 8H28" stroke="#fff" stroke-width="1.5"/></svg>
<div style="left:2459px;top:98px;width:1px;height:34px;background:#a0a0a0;"></div>
<svg style="left:2470px;top:98px;" width="32" height="32" viewBox="0 0 32 32"><rect x="1" y="3" width="20" height="21" fill="#e6f2fb" stroke="#8a7a50" stroke-width="2"/><rect x="1" y="2" width="22" height="5" fill="#2a5ab0"/><rect x="3" y="3.5" width="18" height="2" fill="#a8d8f8"/><path d="M1 16H21M8 7V24" stroke="#8a7a50" stroke-width="1.5"/><path d="M13 19 Q13 16 22 16 Q31 16 31 19 L29 27 Q27 31 22 31 Q17 31 15 27Z" fill="#8a8a8a"/><path d="M15 19 Q15 17.5 22 17.5 Q29 17.5 29 19 Q29 21.5 22 21.5 Q15 21.5 15 19Z" fill="#f4f4f4"/><path d="M21 22 V30" stroke="#b0b0b0" stroke-width="3"/></svg>
<div style="left:2504px;top:96px;width:39px;height:37px;background:#cce4f7;box-sizing:border-box;border:1px solid #99c9f2;"></div>
<svg style="left:2508px;top:98px;" width="32" height="32" viewBox="0 0 32 32"><path d="M5 2.5 V9 M11 2.5 V9 M0 7.7 H17.5 M0 11.8 H17.5 M6 16.5 L2 23 M4 14 L0 16" stroke="#0e3a2e" stroke-width="2"/><rect x="5.5" y="8.5" width="9.5" height="8" fill="#b8dc88" stroke="#1a5a70" stroke-width="1.5"/><path d="M13 19 Q13 16 22 16 Q31 16 31 19 L29 27 Q27 31 22 31 Q17 31 15 27Z" fill="#8a8a8a"/><path d="M15 19 Q15 17.5 22 17.5 Q29 17.5 29 19 Q29 21.5 22 21.5 Q15 21.5 15 19Z" fill="#f4f4f4"/><path d="M21 22 V30" stroke="#b0b0b0" stroke-width="3"/></svg>
<svg style="left:15px;top:165px;" width="32" height="32" viewBox="0 0 32 32"><path d="M10 1V7 M1 10H7 M18 3.5V5.7L15.6 8.3 M21.3 9.7H24.1L25.5 11.7H28.5 M3.5 17.9H6L8.6 15.6 M24.9 17.9H28L30.3 20.1 M10.3 21.5L9.7 24.1L12 26V28.8 M17.9 25.2V28L20.3 30.2" fill="none" stroke="#1b3d33" stroke-width="2"/><circle cx="10.5" cy="10.5" r="3.4" fill="#d8eed0" stroke="#1a5f80" stroke-width="1.8"/><ellipse cx="17.5" cy="17.5" rx="9.3" ry="6.8" transform="rotate(42 17.5 17.5)" fill="#bfe0b0" stroke="#1a5f80" stroke-width="1.8"/><path d="M13 13 L22 22" stroke="#5a9a4a" stroke-width="2"/><path d="M12 16 L18 22" stroke="#e8f4e4" stroke-width="2" opacity="0.8"/><rect x="12" y="12" width="2.5" height="2.5" fill="#2a7a2a"/></svg>
<svg style="left:141px;top:169px;" width="21" height="21" viewBox="0 0 32 32"><path d="M1.5 6.5 L6.5 1.5 L16 11 L25.5 1.5 L30.5 6.5 L21 16 L30.5 25.5 L25.5 30.5 L16 21 L6.5 30.5 L1.5 25.5 L11 16Z" fill="#ffffff" stroke="#7a7a7a" stroke-width="1.8" stroke-linejoin="miter"/></svg>
<svg style="left:18px;top:217px;" width="18" height="12" viewBox="0 0 18 12"><path d="M2 2L9 9L16 2" fill="none" stroke="#404040" stroke-width="3"/></svg>
<svg style="left:46px;top:205px;" width="32" height="32" viewBox="0 0 32 32"><defs><filter id="cbl"><feGaussianBlur stdDeviation="0.7"/></filter></defs><g filter="url(#cbl)" shape-rendering="crispEdges"><rect x="12" y="2" width="2" height="2" fill="#b8b8b8"/><rect x="14" y="2" width="2" height="2" fill="#b8b8b8"/><rect x="16" y="2" width="2" height="2" fill="#b8b8b8"/><rect x="18" y="2" width="2" height="2" fill="#b8b8b8"/><rect x="8" y="4" width="2" height="2" fill="#c4c4c4"/><rect x="10" y="4" width="2" height="2" fill="#c4c4c4"/><rect x="12" y="4" width="2" height="2" fill="#a8a8a8"/><rect x="14" y="4" width="2" height="2" fill="#a8a8a8"/><rect x="16" y="4" width="2" height="2" fill="#a8a8a8"/><rect x="18" y="4" width="2" height="2" fill="#c4c4c4"/><rect x="20" y="4" width="2" height="2" fill="#c4c4c4"/><rect x="22" y="4" width="2" height="2" fill="#c4c4c4"/><rect x="6" y="6" width="2" height="2" fill="#c4c4c4"/><rect x="10" y="6" width="2" height="2" fill="#c4c4c4"/><rect x="12" y="6" width="2" height="2" fill="#8a8a8a"/><rect x="14" y="6" width="2" height="2" fill="#2e2e2e"/><rect x="16" y="6" width="2" height="2" fill="#8a8a8a"/><rect x="18" y="6" width="2" height="2" fill="#c4c4c4"/><rect x="22" y="6" width="2" height="2" fill="#8a8a8a"/><rect x="4" y="8" width="2" height="2" fill="#c4c4c4"/><rect x="6" y="8" width="2" height="2" fill="#c4c4c4"/><rect x="8" y="8" width="2" height="2" fill="#a8a8a8"/><rect x="10" y="8" width="2" height="2" fill="#a8a8a8"/><rect x="12" y="8" width="2" height="2" fill="#2e2e2e"/><rect x="14" y="8" width="2" height="2" fill="#2e2e2e"/><rect x="16" y="8" width="2" height="2" fill="#2e2e2e"/><rect x="18" y="8" width="2" height="2" fill="#a8a8a8"/><rect x="20" y="8" width="2" height="2" fill="#a8a8a8"/><rect x="22" y="8" width="2" height="2" fill="#c4c4c4"/><rect x="24" y="8" width="2" height="2" fill="#c4c4c4"/><rect x="26" y="8" width="2" height="2" fill="#c4c4c4"/><rect x="4" y="10" width="2" height="2" fill="#c4c4c4"/><rect x="6" y="10" width="2" height="2" fill="#a8a8a8"/><rect x="8" y="10" width="2" height="2" fill="#c4c4c4"/><rect x="10" y="10" width="2" height="2" fill="#c4c4c4"/><rect x="12" y="10" width="2" height="2" fill="#c4c4c4"/><rect x="14" y="10" width="2" height="2" fill="#2e2e2e"/><rect x="16" y="10" width="2" height="2" fill="#c4c4c4"/><rect x="18" y="10" width="2" height="2" fill="#c4c4c4"/><rect x="20" y="10" width="2" height="2" fill="#c4c4c4"/><rect x="22" y="10" width="2" height="2" fill="#a8a8a8"/><rect x="24" y="10" width="2" height="2" fill="#c4c4c4"/><rect x="26" y="10" width="2" height="2" fill="#a8a8a8"/><rect x="4" y="12" width="2" height="2" fill="#c4c4c4"/><rect x="6" y="12" width="2" height="2" fill="#c4c4c4"/><rect x="8" y="12" width="2" height="2" fill="#c4c4c4"/><rect x="10" y="12" width="2" height="2" fill="#f2f2f2"/><rect x="12" y="12" width="2" height="2" fill="#f2f2f2"/><rect x="14" y="12" width="2" height="2" fill="#c4c4c4"/><rect x="16" y="12" width="2" height="2" fill="#c4c4c4"/><rect x="18" y="12" width="2" height="2" fill="#c4c4c4"/><rect x="20" y="12" width="2" height="2" fill="#f2f2f2"/><rect x="22" y="12" width="2" height="2" fill="#f2f2f2"/><rect x="24" y="12" width="2" height="2" fill="#c4c4c4"/><rect x="26" y="12" width="2" height="2" fill="#c4c4c4"/><rect x="4" y="14" width="2" height="2" fill="#c4c4c4"/><rect x="6" y="14" width="2" height="2" fill="#a8a8a8"/><rect x="8" y="14" width="2" height="2" fill="#c4c4c4"/><rect x="10" y="14" width="2" height="2" fill="#c4c4c4"/><rect x="12" y="14" width="2" height="2" fill="#f2f2f2"/><rect x="14" y="14" width="2" height="2" fill="#f2f2f2"/><rect x="16" y="14" width="2" height="2" fill="#f2f2f2"/><rect x="18" y="14" width="2" height="2" fill="#f2f2f2"/><rect x="20" y="14" width="2" height="2" fill="#c4c4c4"/><rect x="22" y="14" width="2" height="2" fill="#c4c4c4"/><rect x="24" y="14" width="2" height="2" fill="#a8a8a8"/><rect x="26" y="14" width="2" height="2" fill="#c4c4c4"/><rect x="4" y="16" width="2" height="2" fill="#c4c4c4"/><rect x="6" y="16" width="2" height="2" fill="#6a6a6a"/><rect x="8" y="16" width="2" height="2" fill="#6a6a6a"/><rect x="10" y="16" width="2" height="2" fill="#c4c4c4"/><rect x="12" y="16" width="2" height="2" fill="#c4c4c4"/><rect x="14" y="16" width="2" height="2" fill="#f2f2f2"/><rect x="16" y="16" width="2" height="2" fill="#f2f2f2"/><rect x="18" y="16" width="2" height="2" fill="#c4c4c4"/><rect x="20" y="16" width="2" height="2" fill="#c4c4c4"/><rect x="22" y="16" width="2" height="2" fill="#6a6a6a"/><rect x="24" y="16" width="2" height="2" fill="#6a6a6a"/><rect x="26" y="16" width="2" height="2" fill="#c4c4c4"/><rect x="4" y="18" width="2" height="2" fill="#a8a8a8"/><rect x="6" y="18" width="2" height="2" fill="#2e2e2e"/><rect x="8" y="18" width="2" height="2" fill="#2e2e2e"/><rect x="10" y="18" width="2" height="2" fill="#c4c4c4"/><rect x="12" y="18" width="2" height="2" fill="#c4c4c4"/><rect x="14" y="18" width="2" height="2" fill="#f2f2f2"/><rect x="16" y="18" width="2" height="2" fill="#f2f2f2"/><rect x="18" y="18" width="2" height="2" fill="#c4c4c4"/><rect x="20" y="18" width="2" height="2" fill="#c4c4c4"/><rect x="22" y="18" width="2" height="2" fill="#2e2e2e"/><rect x="24" y="18" width="2" height="2" fill="#2e2e2e"/><rect x="26" y="18" width="2" height="2" fill="#a8a8a8"/><rect x="4" y="20" width="2" height="2" fill="#a8a8a8"/><rect x="6" y="20" width="2" height="2" fill="#2e2e2e"/><rect x="8" y="20" width="2" height="2" fill="#2e2e2e"/><rect x="10" y="20" width="2" height="2" fill="#a8a8a8"/><rect x="12" y="20" width="2" height="2" fill="#c4c4c4"/><rect x="14" y="20" width="2" height="2" fill="#f2f2f2"/><rect x="16" y="20" width="2" height="2" fill="#f2f2f2"/><rect x="18" y="20" width="2" height="2" fill="#c4c4c4"/><rect x="20" y="20" width="2" height="2" fill="#a8a8a8"/><rect x="22" y="20" width="2" height="2" fill="#2e2e2e"/><rect x="24" y="20" width="2" height="2" fill="#2e2e2e"/><rect x="26" y="20" width="2" height="2" fill="#a8a8a8"/><rect x="4" y="22" width="2" height="2" fill="#c4c4c4"/><rect x="6" y="22" width="2" height="2" fill="#c4c4c4"/><rect x="8" y="22" width="2" height="2" fill="#a8a8a8"/><rect x="10" y="22" width="2" height="2" fill="#c4c4c4"/><rect x="12" y="22" width="2" height="2" fill="#c4c4c4"/><rect x="14" y="22" width="2" height="2" fill="#f2f2f2"/><rect x="16" y="22" width="2" height="2" fill="#f2f2f2"/><rect x="18" y="22" width="2" height="2" fill="#c4c4c4"/><rect x="20" y="22" width="2" height="2" fill="#c4c4c4"/><rect x="22" y="22" width="2" height="2" fill="#a8a8a8"/><rect x="24" y="22" width="2" height="2" fill="#a8a8a8"/><rect x="26" y="22" width="2" height="2" fill="#c4c4c4"/><rect x="6" y="24" width="2" height="2" fill="#c4c4c4"/><rect x="8" y="24" width="2" height="2" fill="#c4c4c4"/><rect x="10" y="24" width="2" height="2" fill="#c4c4c4"/><rect x="12" y="24" width="2" height="2" fill="#c4c4c4"/><rect x="14" y="24" width="2" height="2" fill="#c4c4c4"/><rect x="16" y="24" width="2" height="2" fill="#c4c4c4"/><rect x="18" y="24" width="2" height="2" fill="#c4c4c4"/><rect x="20" y="24" width="2" height="2" fill="#c4c4c4"/><rect x="22" y="24" width="2" height="2" fill="#c4c4c4"/><rect x="24" y="24" width="2" height="2" fill="#c4c4c4"/><rect x="8" y="26" width="2" height="2" fill="#c4c4c4"/><rect x="10" y="26" width="2" height="2" fill="#c4c4c4"/><rect x="12" y="26" width="2" height="2" fill="#a8a8a8"/><rect x="14" y="26" width="2" height="2" fill="#f2f2f2"/><rect x="16" y="26" width="2" height="2" fill="#f2f2f2"/><rect x="18" y="26" width="2" height="2" fill="#a8a8a8"/><rect x="20" y="26" width="2" height="2" fill="#c4c4c4"/><rect x="22" y="26" width="2" height="2" fill="#c4c4c4"/><rect x="10" y="28" width="2" height="2" fill="#c4c4c4"/><rect x="12" y="28" width="2" height="2" fill="#c4c4c4"/><rect x="14" y="28" width="2" height="2" fill="#c4c4c4"/><rect x="16" y="28" width="2" height="2" fill="#c4c4c4"/><rect x="18" y="28" width="2" height="2" fill="#c4c4c4"/><rect x="20" y="28" width="2" height="2" fill="#c4c4c4"/></g></svg>
<svg style="left:81px;top:242px;" width="32" height="32" viewBox="0 0 32 32"><path d="M1 15 L14 22 L1 29Z" fill="#3aa860"/><g transform="translate(21 11) scale(0.85) translate(-18.5 -11.5)"><path d="M16 1 H21 V3 H24 V6 H27 V10 H29 V14 H27 V17 H24 V20 H21 V22 H16 V20 H13 V17 H10 V14 H8 V10 H10 V6 H13 V3 H16Z" fill="#f2c84a" stroke="#6a3a1a" stroke-width="2.2"/><circle cx="18.5" cy="11.5" r="3" fill="#c89030" stroke="#7a4a1a" stroke-width="1"/></g></svg>
<svg style="left:975px;top:158px;" width="32" height="32" viewBox="0 0 32 32"><path d="M5 4 L17 16 M17 4 L5 16" stroke="#8c8c8c" stroke-width="7" stroke-linecap="round"/><path d="M5 4 L17 16 M17 4 L5 16" stroke="#e4e4e4" stroke-width="4" stroke-linecap="round"/><path d="M13 13 L25 25 M25 13 L13 25" stroke="#7a7a7a" stroke-width="8" stroke-linecap="round"/><path d="M13 13 L25 25 M25 13 L13 25" stroke="#ababab" stroke-width="5" stroke-linecap="round"/></svg>
<svg style="left:1033px;top:165px;" width="19" height="12" viewBox="0 0 19 12"><rect x="0" y="0" width="18" height="2" fill="#555"/><rect x="2" y="2" width="2" height="2" fill="#555"/><path d="M4 2H16L10 9Z" fill="#fff"/><rect x="9" y="8" width="2" height="2" fill="#444"/></svg>
<div style="left:1067px;top:165px;width:19px;height:7px;background:#fff;box-sizing:border-box;border:1px solid #555;"></div>
<div style="left:1106px;top:165px;width:19px;height:19px;background:#fff;box-sizing:border-box;border:1px solid #555;"></div>
<div style="left:1106px;top:169px;width:19px;height:1px;background:#555;"></div>
<svg style="left:1164px;top:166px;" width="36" height="26" viewBox="0 0 36 26"><text x="1" y="20" font-family="Liberation Sans" font-size="20" fill="#34557e">(x)=</text></svg>
<svg style="left:1320px;top:163px;" width="32" height="32" viewBox="0 0 32 32"><circle cx="8" cy="18" r="5" fill="#dff0fb" stroke="#34557e" stroke-width="2.5"/><circle cx="21" cy="18" r="5" fill="#dff0fb" stroke="#34557e" stroke-width="2.5"/><path d="M13 17 Q14.5 15 16 17 M4 15 L10 5 Q13 2 14 7 M26 15 L29 7 Q31 4 32 9" fill="none" stroke="#34557e" stroke-width="2"/><text x="12" y="31" font-family="Liberation Sans" font-size="9" fill="#34557e">x =</text></svg>
<svg style="left:1497px;top:169px;" width="21" height="21" viewBox="0 0 32 32"><path d="M1.5 6.5 L6.5 1.5 L16 11 L25.5 1.5 L30.5 6.5 L21 16 L30.5 25.5 L25.5 30.5 L16 21 L6.5 30.5 L1.5 25.5 L11 16Z" fill="#ffffff" stroke="#7a7a7a" stroke-width="1.8" stroke-linejoin="miter"/></svg>
<svg style="left:1543px;top:162px;" width="32" height="32" viewBox="0 0 32 32"><text x="2" y="14" font-family="Liberation Sans" font-size="13" fill="#2a4a7a" letter-spacing="-0.5">1010</text><text x="1" y="27" font-family="Liberation Sans" font-size="13" fill="#2a4a7a" letter-spacing="-0.5">0101</text></svg>
<svg style="left:2009px;top:160px;" width="32" height="32" viewBox="0 0 32 32"><path d="M3 11 H27 L29 13 V30 H3Z" fill="#f2f2f2" stroke="#c4c4c4" stroke-width="2"/><path d="M6 24 H10 M12 24 H16 M18 24 H22" stroke="#b4b4b4" stroke-width="3"/><text x="4" y="19" font-family="Liberation Serif" font-style="italic" font-size="22" fill="#a8a8a8">x</text><path d="M2 20 L10 4 Q12 1 16 2" fill="none" stroke="#a8a8a8" stroke-width="2"/></svg>
<svg style="left:2048px;top:159px;" width="32" height="32" viewBox="0 0 32 32"><path d="M0 15H8V11 L15 17 L8 23 V19 H0Z" fill="#fff0c0" stroke="#c8a040" stroke-width="1.5"/><path d="M21 4 V24 H26 M21 14 H26" fill="none" stroke="#4a6ab0" stroke-width="2"/><path d="M17 9 L21 2 L25 9Z" fill="#4a6ab0"/><rect x="26" y="12" width="5" height="5" fill="#e04060"/><rect x="26" y="21" width="5" height="5" fill="#e04060"/><path d="M26 5H31" stroke="#4a6ab0" stroke-width="1.5"/></svg>
<svg style="left:2088px;top:160px;" width="32" height="32" viewBox="0 0 32 32"><rect x="2" y="2" width="20" height="22" fill="#dcecf8" stroke="#8a9ab8" stroke-width="2"/><rect x="6" y="6" width="20" height="22" fill="#eef6fc" stroke="#8a9ab8" stroke-width="2"/><path d="M10 16 H23" stroke="#0a2a6a" stroke-width="2.5"/></svg>
<div style="left:2125px;top:158px;width:1px;height:34px;background:#555;"></div>
<svg style="left:2136px;top:161px;" width="27" height="27" viewBox="0 0 32 32"><path d="M10 1 H17 V10 H26 V17 H17 V26 H10 V17 H1 V10 H10Z" fill="url(#ggr)" stroke="#3a7a30" stroke-width="2"/></svg>
<svg style="left:2174px;top:159px;" width="32" height="32" viewBox="0 0 32 32"><path d="M6 6 L24 24 M24 6 L6 24" stroke="#a0a0a0" stroke-width="8" stroke-linecap="round"/><path d="M6 6 L24 24 M24 6 L6 24" stroke="#c0c0c0" stroke-width="5" stroke-linecap="round"/></svg>
<svg style="left:2213px;top:159px;" width="32" height="32" viewBox="0 0 32 32"><path d="M6 5 L18 17 M18 5 L6 17" stroke="#3a3a3a" stroke-width="7" stroke-linecap="round"/><path d="M6 5 L18 17 M18 5 L6 17" stroke="#d8d8d8" stroke-width="4" stroke-linecap="round"/><path d="M14 14 L26 26 M26 14 L14 26" stroke="#3a3a3a" stroke-width="8" stroke-linecap="round"/><path d="M14 14 L26 26 M26 14 L14 26" stroke="#8a8a8a" stroke-width="5" stroke-linecap="round"/></svg>
<svg style="left:2251px;top:159px;" width="32" height="32" viewBox="0 0 32 32"><path d="M3 9 H11 V22 H15 L8 30 L1 22 H5Z" fill="url(#gy)" stroke="#c88a0c" stroke-width="2" stroke-linejoin="round"/><path d="M17 24 V10 H13 L21 2 L29 10 H25 V24Z" fill="url(#gy)" stroke="#c88a0c" stroke-width="2" stroke-linejoin="round"/></svg>
<div style="left:2289px;top:158px;width:1px;height:34px;background:#555;"></div>
<svg style="left:2299px;top:159px;" width="32" height="32" viewBox="0 0 32 32"><rect x="2" y="5" width="26" height="24" fill="#e6f3fc" stroke="#8a7a50" stroke-width="2"/><rect x="2" y="4" width="17" height="5" fill="url(#gtb)"/><path d="M10 28 Q26 26 26 8" fill="none" stroke="#f4dc8c" stroke-width="2"/><path d="M24 1 L28 6 H26 V12 H22 V6 H20Z" fill="#fff8d8" stroke="#b8860b" stroke-width="1.5"/></svg>
<svg style="left:2340px;top:159px;" width="32" height="32" viewBox="0 0 32 32"><rect x="2" y="8" width="24" height="21" fill="#e6f3fc" stroke="#8a9ab8" stroke-width="2"/><rect x="2" y="7" width="14" height="5" fill="url(#gtb)"/><path d="M10 20 L22 8" stroke="#0a2a5a" stroke-width="2"/><path d="M18 6 L24 1 L30 7 L25 12Z" fill="#a8a8a8" stroke="#808080" stroke-width="1.5"/><path d="M14 16 L24 26" stroke="#a8c8e8" stroke-width="1.5"/></svg>
<div style="left:2375px;top:158px;width:1px;height:34px;background:#555;"></div>
<svg style="left:2384px;top:159px;" width="32" height="32" viewBox="0 0 32 32"><path d="M5 18 Q4 8 14 6 H18" fill="none" stroke="#b8900c" stroke-width="5"/><path d="M5 18 Q4 8 14 6 H18" fill="none" stroke="#ffe040" stroke-width="2.5"/><path d="M16 0 L23 6 L16 12Z" fill="#ffe040" stroke="#8a6a20" stroke-width="1.5"/><path d="M27 14 Q28 24 18 26 H14" fill="none" stroke="#b8900c" stroke-width="5"/><path d="M27 14 Q28 24 18 26 H14" fill="none" stroke="#ffe040" stroke-width="2.5"/><path d="M16 20 L9 26 L16 32Z" fill="#ffe040" stroke="#8a6a20" stroke-width="1.5"/></svg>
<svg style="left:2440px;top:165px;" width="19" height="12" viewBox="0 0 19 12"><rect x="0" y="0" width="18" height="2" fill="#555"/><rect x="2" y="2" width="2" height="2" fill="#555"/><path d="M4 2H16L10 9Z" fill="#fff"/><rect x="9" y="8" width="2" height="2" fill="#444"/></svg>
<div style="left:2475px;top:165px;width:19px;height:7px;background:#fff;box-sizing:border-box;border:1px solid #555;"></div>
<div style="left:2514px;top:165px;width:19px;height:19px;background:#fff;box-sizing:border-box;border:1px solid #555;"></div>
<div style="left:2514px;top:169px;width:19px;height:1px;background:#555;"></div>
<svg style="left:1198px;top:253px;" width="32" height="20" viewBox="0 0 32 20"><text x="0" y="16" font-family="Liberation Sans" font-size="17" font-weight="bold" fill="#34557e" letter-spacing="-1.5">(x)=</text></svg>
<svg style="left:1198px;top:288px;" width="32" height="20" viewBox="0 0 32 20"><text x="0" y="16" font-family="Liberation Sans" font-size="17" font-weight="bold" fill="#34557e" letter-spacing="-1.5">(x)=</text></svg>
<svg style="left:1199px;top:318px;" width="28" height="28" viewBox="0 0 32 32"><path d="M10 1 H17 V10 H26 V17 H17 V26 H10 V17 H1 V10 H10Z" fill="url(#ggr)" stroke="#3a7a30" stroke-width="2"/></svg>
<svg style="left:16px;top:462px;" width="32" height="32" viewBox="0 0 32 32"><path d="M4 1 H21 L27 7 V31 H4Z" fill="#eef4fb" stroke="url(#gfr)" stroke-width="2"/><path d="M21 1 V7 H27" fill="#d8b868" stroke="#b8903c" stroke-width="1.5"/><rect x="8" y="25" width="3" height="3" fill="#1a5aa0"/><path d="M22 13 H15 V25 H22" fill="none" stroke="#1a5aa0" stroke-width="3"/><rect x="13" y="13" width="2" height="12" fill="#7aa0c8"/></svg>
<svg style="left:226px;top:462px;" width="32" height="32" viewBox="0 0 32 32"><path d="M4 1 H21 L27 7 V31 H4Z" fill="#eef4fb" stroke="url(#gfr)" stroke-width="2"/><path d="M21 1 V7 H27" fill="#d8b868" stroke="#b8903c" stroke-width="1.5"/><rect x="8" y="25" width="3" height="3" fill="#1a5aa0"/><path d="M22 13 H15 V25 H22" fill="none" stroke="#1a5aa0" stroke-width="3"/><rect x="13" y="13" width="2" height="12" fill="#7aa0c8"/></svg>
<svg style="left:472px;top:462px;" width="32" height="32" viewBox="0 0 32 32"><path d="M4 1 H21 L27 7 V31 H4Z" fill="#eef4fb" stroke="url(#gfr)" stroke-width="2"/><path d="M21 1 V7 H27" fill="#d8b868" stroke="#b8903c" stroke-width="1.5"/><rect x="8" y="25" width="3" height="3" fill="#1a5aa0"/><path d="M22 13 H15 V25 H22" fill="none" stroke="#1a5aa0" stroke-width="3"/><rect x="13" y="13" width="2" height="12" fill="#7aa0c8"/></svg>
<svg style="left:646.4px;top:462px;" width="32" height="32" viewBox="0 0 32 32"><path d="M4 1 H21 L27 7 V31 H4Z" fill="#eef4fb" stroke="url(#gfr)" stroke-width="2"/><path d="M21 1 V7 H27" fill="#d8b868" stroke="#b8903c" stroke-width="1.5"/><rect x="8" y="25" width="3" height="3" fill="#1a5aa0"/><path d="M22 13 H15 V25 H22" fill="none" stroke="#1a5aa0" stroke-width="3"/><rect x="13" y="13" width="2" height="12" fill="#7aa0c8"/></svg>
<svg style="left:856px;top:462px;" width="32" height="32" viewBox="0 0 32 32"><path d="M4 1 H21 L27 7 V31 H4Z" fill="#eef4fb" stroke="url(#gfr)" stroke-width="2"/><path d="M21 1 V7 H27" fill="#d8b868" stroke="#b8903c" stroke-width="1.5"/><rect x="8" y="25" width="3" height="3" fill="#1a5aa0"/><path d="M22 13 H15 V25 H22" fill="none" stroke="#1a5aa0" stroke-width="3"/><rect x="13" y="13" width="2" height="12" fill="#7aa0c8"/></svg>
<svg style="left:1088px;top:462px;" width="32" height="32" viewBox="0 0 32 32"><path d="M4 1 H21 L27 7 V31 H4Z" fill="#eef4fb" stroke="url(#gfr)" stroke-width="2"/><path d="M21 1 V7 H27" fill="#d8b868" stroke="#b8903c" stroke-width="1.5"/><rect x="8" y="25" width="3" height="3" fill="#1a5aa0"/><path d="M22 13 H15 V25 H22" fill="none" stroke="#1a5aa0" stroke-width="3"/><rect x="13" y="13" width="2" height="12" fill="#7aa0c8"/></svg>
<svg style="left:1256px;top:462px;" width="32" height="32" viewBox="0 0 32 32"><path d="M4 1 H21 L27 7 V31 H4Z" fill="#eef4fb" stroke="url(#gfr)" stroke-width="2"/><path d="M21 1 V7 H27" fill="#d8b868" stroke="#b8903c" stroke-width="1.5"/><path d="M8 10H21M8 14H23M8 18H23M8 22H23M8 26H23" stroke="#5a7ab8" stroke-width="2"/></svg>
<svg style="left:1468.4px;top:462px;" width="32" height="32" viewBox="0 0 32 32"><path d="M4 1 H21 L27 7 V31 H4Z" fill="#eef4fb" stroke="url(#gfr)" stroke-width="2"/><path d="M21 1 V7 H27" fill="#d8b868" stroke="#b8903c" stroke-width="1.5"/><rect x="8" y="25" width="3" height="3" fill="#1a5aa0"/><path d="M22 13 H15 V25 H22" fill="none" stroke="#1a5aa0" stroke-width="3"/><rect x="13" y="13" width="2" height="12" fill="#7aa0c8"/></svg>
<svg style="left:1209px;top:469px;" width="21" height="21" viewBox="0 0 32 32"><path d="M1.5 6.5 L6.5 1.5 L16 11 L25.5 1.5 L30.5 6.5 L21 16 L30.5 25.5 L25.5 30.5 L16 21 L6.5 30.5 L1.5 25.5 L11 16Z" fill="#ffffff" stroke="#7a7a7a" stroke-width="1.8" stroke-linejoin="miter"/></svg>
<div style="left:2475px;top:463px;width:19px;height:7px;background:#fff;box-sizing:border-box;border:1px solid #555;"></div>
<div style="left:2514px;top:462px;width:19px;height:19px;background:#fff;box-sizing:border-box;border:1px solid #555;"></div>
<div style="left:2514px;top:466px;width:19px;height:1px;background:#555;"></div>
<svg style="left:15px;top:567px;" width="32" height="32" viewBox="0 0 32 32"><rect x="3" y="2" width="26" height="21" fill="#2f6db5"/><rect x="5" y="4" width="22" height="17" fill="#7a8fae"/><rect x="6" y="5" width="20" height="15" fill="#e6f3fc"/><path d="M8 9H15M8 13H23" stroke="#2a4d8f" stroke-width="2"/><rect x="12" y="23" width="8" height="3" fill="#2f6db5"/><rect x="5" y="26" width="22" height="3" fill="#2f6db5"/></svg>
<svg style="left:152px;top:572px;" width="21" height="21" viewBox="0 0 32 32"><path d="M1.5 6.5 L6.5 1.5 L16 11 L25.5 1.5 L30.5 6.5 L21 16 L30.5 25.5 L25.5 30.5 L16 21 L6.5 30.5 L1.5 25.5 L11 16Z" fill="#ffffff" stroke="#7a7a7a" stroke-width="1.8" stroke-linejoin="miter"/></svg>
<svg style="left:618px;top:562px;" width="32" height="32" viewBox="0 0 32 32"><path d="M2 1 H18 L23 6 V28 H2Z" fill="#eef4fb" stroke="#b8a878" stroke-width="2"/><path d="M6 7H16M6 11H19M6 15H19M6 19H16M6 23H16" stroke="#4a6ab0" stroke-width="2"/><path d="M18 18 L28 28 M28 18 L18 28" stroke="#404040" stroke-width="5" stroke-linecap="round"/><path d="M18 18 L28 28 M28 18 L18 28" stroke="#a0a0a0" stroke-width="2" stroke-linecap="round"/></svg>
<svg style="left:657px;top:563px;" width="32" height="32" viewBox="0 0 32 32"><rect x="3" y="2" width="27" height="26" fill="#e6f3fc" stroke="#a89860" stroke-width="2"/><rect x="23" y="2" width="7" height="26" fill="#c8d8ec" stroke="#6a8ac0" stroke-width="1.5"/><rect x="25" y="5" width="3" height="3" fill="#2a4a8a"/><rect x="25" y="22" width="3" height="3" fill="#2a4a8a"/><path d="M4 18 V13 Q4 7 10 7 Q16 7 16 13 V18" fill="none" stroke="#8a6a20" stroke-width="3"/><rect x="1" y="17" width="18" height="14" rx="2" fill="#e8b840" stroke="#a06010" stroke-width="2"/><rect x="9" y="22" width="2" height="5" fill="#5a3a10"/></svg>
<svg style="left:696px;top:562px;" width="32" height="32" viewBox="0 0 32 32"><path d="M2 1 H18 L23 6 V28 H2Z" fill="#eef4fb" stroke="#c8b890" stroke-width="2"/><path d="M6 7H16M6 11H19M6 15H16M6 19H13M6 23H13" stroke="#6a8ac0" stroke-width="2"/><path d="M27 4 V20 H20 V16 L13 22 L20 28 V24 H31 V4Z" fill="#fff0c8" stroke="#c8a050" stroke-width="1.5"/></svg>
<div style="left:733px;top:562px;width:1px;height:34px;background:#555;"></div>
<svg style="left:745px;top:563px;" width="32" height="32" viewBox="0 0 32 32"><rect x="2" y="10" width="26" height="20" fill="#e6f3fc" stroke="#8a9ab8" stroke-width="2"/><rect x="2" y="9" width="22" height="5" fill="url(#gtb)"/><path d="M12 20 L18 14" stroke="#1a3a7a" stroke-width="2"/><path d="M16 14 L26 2 Q30 1 31 5 L22 17Z" fill="#3ab050" stroke="#1a7a30" stroke-width="1.5"/><path d="M16 22 L24 29" stroke="#c8c8c8" stroke-width="1.5"/></svg>
<svg style="left:783px;top:562px;" width="32" height="32" viewBox="0 0 32 32"><rect x="3" y="2" width="26" height="21" fill="#2f6db5"/><rect x="5" y="4" width="22" height="17" fill="#7a8fae"/><rect x="6" y="5" width="20" height="15" fill="#e6f3fc"/><path d="M8 9H15M8 13H23" stroke="#2a4d8f" stroke-width="2"/><rect x="12" y="23" width="8" height="3" fill="#2f6db5"/><rect x="5" y="26" width="22" height="3" fill="#2f6db5"/></svg>
<svg style="left:826px;top:575px;" width="14" height="8" viewBox="0 0 14 8"><path d="M0 0H14L7 8Z" fill="#262626"/></svg>
<svg style="left:852px;top:562px;" width="32" height="32" viewBox="0 0 32 32"><rect x="2" y="7" width="26" height="22" fill="#eef7fd" stroke="url(#gfr)" stroke-width="2"/><rect x="1" y="6" width="21" height="6" fill="url(#gtb)"/><path d="M10 28 Q24 26 25 14" fill="none" stroke="#f4dc8c" stroke-width="2"/><path d="M24 2 L31 9.5 L24 17 L17 9.5Z" fill="#fff4cc" stroke="#a8820e" stroke-width="2"/><path d="M24 5.5V13.5M20 9.5H28" stroke="#ffffff" stroke-width="2"/></svg>
<svg style="left:895px;top:575px;" width="14" height="8" viewBox="0 0 14 8"><path d="M0 0H14L7 8Z" fill="#262626"/></svg>
<div style="left:927px;top:569px;width:19px;height:7px;background:#fff;box-sizing:border-box;border:1px solid #555;"></div>
<div style="left:966px;top:569px;width:19px;height:19px;background:#fff;box-sizing:border-box;border:1px solid #555;"></div>
<div style="left:966px;top:573px;width:19px;height:1px;background:#555;"></div>
<svg style="left:1025px;top:568px;" width="32" height="32" viewBox="0 0 32 32"><circle cx="19" cy="12" r="9" fill="#ffffff" stroke="#1a8a98" stroke-width="3.5"/><path d="M15 16 L23 8" stroke="#1a8a98" stroke-width="2.5"/><path d="M12 19 L3 28" stroke="#1a8a98" stroke-width="4"/></svg>
<svg style="left:1356px;top:573px;" width="21" height="21" viewBox="0 0 32 32"><path d="M1.5 6.5 L6.5 1.5 L16 11 L25.5 1.5 L30.5 6.5 L21 16 L30.5 25.5 L25.5 30.5 L16 21 L6.5 30.5 L1.5 25.5 L11 16Z" fill="#ffffff" stroke="#7a7a7a" stroke-width="1.8" stroke-linejoin="miter"/></svg>
<svg style="left:1402px;top:568px;" width="32" height="32" viewBox="0 0 32 32"><rect x="2" y="1" width="28" height="29" fill="#ffffff"/><path d="M2 1 V30 H30" fill="none" stroke="#000" stroke-width="2"/><path d="M4 22 L8 18 L11 24 L15 20 L19 22 L23 19 L28 16" fill="none" stroke="#c8c8c8" stroke-width="2"/><path d="M4 20 L7 17 L10 21 L14 18 L18 22 L22 19 L28 18" fill="none" stroke="#ff0000" stroke-width="2"/><path d="M4 6 H8 L10 14 L13 10 L17 16 L22 16 L28 10" fill="none" stroke="#0000ff" stroke-width="2"/></svg>
<svg style="left:1534px;top:568px;" width="32" height="32" viewBox="0 0 32 32"><rect x="2" y="1" width="28" height="29" fill="#ffffff"/><path d="M2 1 V30 H30" fill="none" stroke="#000" stroke-width="2"/><path d="M4 22 L8 18 L11 24 L15 20 L19 22 L23 19 L28 16" fill="none" stroke="#c8c8c8" stroke-width="2"/><path d="M4 20 L7 17 L10 21 L14 18 L18 22 L22 19 L28 18" fill="none" stroke="#ff0000" stroke-width="2"/><path d="M4 6 H8 L10 14 L13 10 L17 16 L22 16 L28 10" fill="none" stroke="#0000ff" stroke-width="2"/></svg>
<svg style="left:1674px;top:568px;" width="32" height="32" viewBox="0 0 32 32"><rect x="2" y="1" width="28" height="29" fill="#ffffff"/><path d="M2 1 V30 H30" fill="none" stroke="#000" stroke-width="2"/><path d="M4 12 L10 6 L13 9 L18 4 L21 7 L28 1" fill="none" stroke="#1a2a8a" stroke-width="1.5"/><path d="M14 14 H30 M20 14 V10 M26 14 V8" stroke="#a0a0a0" stroke-width="2"/><rect x="5" y="15" width="4" height="14" fill="#ff6010"/><rect x="13" y="19" width="4" height="10" fill="#1a50c8"/><rect x="22" y="22" width="4" height="7" fill="#10b020"/></svg>
<svg style="left:2119px;top:563px;" width="32" height="32" viewBox="0 0 32 32"><circle cx="16" cy="16" r="12" fill="#e8e8e8" stroke="#a8a8a8" stroke-width="3"/><path d="M16 6 V16" stroke="#a0a0a0" stroke-width="3"/></svg>
<div style="left:2155px;top:562px;width:1px;height:34px;background:#555;"></div>
<svg style="left:2164px;top:563px;" width="32" height="32" viewBox="0 0 32 32"><circle cx="16" cy="18" r="11" fill="#f4f4f4" stroke="#a8a8a8" stroke-width="3"/><path d="M12 2H20M16 2V7M4 8 L8 4 M28 8 L24 4" stroke="#a8a8a8" stroke-width="2.5"/><path d="M16 12 V19 L18 17" fill="none" stroke="#a0a0a0" stroke-width="1.5"/></svg>
<svg style="left:2208px;top:575px;" width="14" height="8" viewBox="0 0 14 8"><path d="M0 0H14L7 8Z" fill="#707070"/></svg>
<div style="left:2233px;top:562px;width:1px;height:34px;background:#555;"></div>
<svg style="left:2243px;top:563px;" width="32" height="32" viewBox="0 0 32 32"><rect x="2" y="2" width="28" height="28" fill="#eeeeee" stroke="#a8a8a8" stroke-width="3"/><path d="M8 2 V14 H24 V2" fill="none" stroke="#a8a8a8" stroke-width="2.5"/><rect x="9" y="20" width="14" height="10" fill="none" stroke="#a8a8a8" stroke-width="2.5"/><rect x="18" y="24" width="3" height="4" fill="#a0a0a0"/></svg>
<svg style="left:2282px;top:563px;" width="32" height="32" viewBox="0 0 32 32"><path d="M2 6 H12 L14 9 H26 V14 H10 L2 26Z" fill="#b0b0b0" stroke="#a0a0a0" stroke-width="2"/><path d="M2 26 L10 14 H32 L24 26Z" fill="#a0a0a0"/></svg>
<svg style="left:2325px;top:575px;" width="14" height="8" viewBox="0 0 14 8"><path d="M0 0H14L7 8Z" fill="#707070"/></svg>
<div style="left:2350px;top:562px;width:1px;height:34px;background:#555;"></div>
<svg style="left:2361px;top:563px;" width="32" height="32" viewBox="0 0 32 32"><rect x="2" y="2" width="11" height="11" fill="#e8e8e8" stroke="#a8a8a8" stroke-width="3"/><rect x="2" y="19" width="11" height="11" fill="#e8e8e8" stroke="#a8a8a8" stroke-width="3"/><path d="M16 6H30M16 26H30" stroke="#a8a8a8" stroke-width="2.5"/><rect x="17" y="13" width="6" height="5" fill="none" stroke="#a8a8a8" stroke-width="2"/><path d="M25 16H30" stroke="#a8a8a8" stroke-width="2"/></svg>
<svg style="left:2403px;top:575px;" width="14" height="8" viewBox="0 0 14 8"><path d="M0 0H14L7 8Z" fill="#707070"/></svg>
<svg style="left:2431px;top:562px;" width="32" height="32" viewBox="0 0 32 32"><path d="M3 30 V6 Q3 1 7 2 Q9 3 8 8 V30 M11 30 V4 Q11 1 14 2 V30 M18 30 V12 H23 V30 M26 30 V4 Q29 3 30 6 V30" fill="none" stroke="#a8a8a8" stroke-width="2.5"/></svg>
<div style="left:2475px;top:569px;width:19px;height:7px;background:#fff;box-sizing:border-box;border:1px solid #555;"></div>
<div style="left:2514px;top:569px;width:19px;height:19px;background:#fff;box-sizing:border-box;border:1px solid #555;"></div>
<div style="left:2514px;top:573px;width:19px;height:1px;background:#555;"></div>
<svg style="left:1756px;top:1320px;" width="4" height="28" viewBox="0 0 4 28"><rect x="0" y="0" width="4" height="4" fill="#9a9282"/><rect x="0" y="0" width="2" height="2" fill="#d8d2c4"/><rect x="0" y="8" width="4" height="4" fill="#9a9282"/><rect x="0" y="8" width="2" height="2" fill="#d8d2c4"/><rect x="0" y="15" width="4" height="4" fill="#9a9282"/><rect x="0" y="15" width="2" height="2" fill="#d8d2c4"/><rect x="0" y="23" width="4" height="4" fill="#9a9282"/><rect x="0" y="23" width="2" height="2" fill="#d8d2c4"/></svg>
<svg style="left:2410px;top:1320px;" width="4" height="28" viewBox="0 0 4 28"><rect x="0" y="0" width="4" height="4" fill="#9a9282"/><rect x="0" y="0" width="2" height="2" fill="#d8d2c4"/><rect x="0" y="8" width="4" height="4" fill="#9a9282"/><rect x="0" y="8" width="2" height="2" fill="#d8d2c4"/><rect x="0" y="15" width="4" height="4" fill="#9a9282"/><rect x="0" y="15" width="2" height="2" fill="#d8d2c4"/><rect x="0" y="23" width="4" height="4" fill="#9a9282"/><rect x="0" y="23" width="2" height="2" fill="#d8d2c4"/></svg>
<svg style="left:2464px;top:1320px;" width="4" height="28" viewBox="0 0 4 28"><rect x="0" y="0" width="4" height="4" fill="#9a9282"/><rect x="0" y="0" width="2" height="2" fill="#d8d2c4"/><rect x="0" y="8" width="4" height="4" fill="#9a9282"/><rect x="0" y="8" width="2" height="2" fill="#d8d2c4"/><rect x="0" y="15" width="4" height="4" fill="#9a9282"/><rect x="0" y="15" width="2" height="2" fill="#d8d2c4"/><rect x="0" y="23" width="4" height="4" fill="#9a9282"/><rect x="0" y="23" width="2" height="2" fill="#d8d2c4"/></svg>
</body></html>
